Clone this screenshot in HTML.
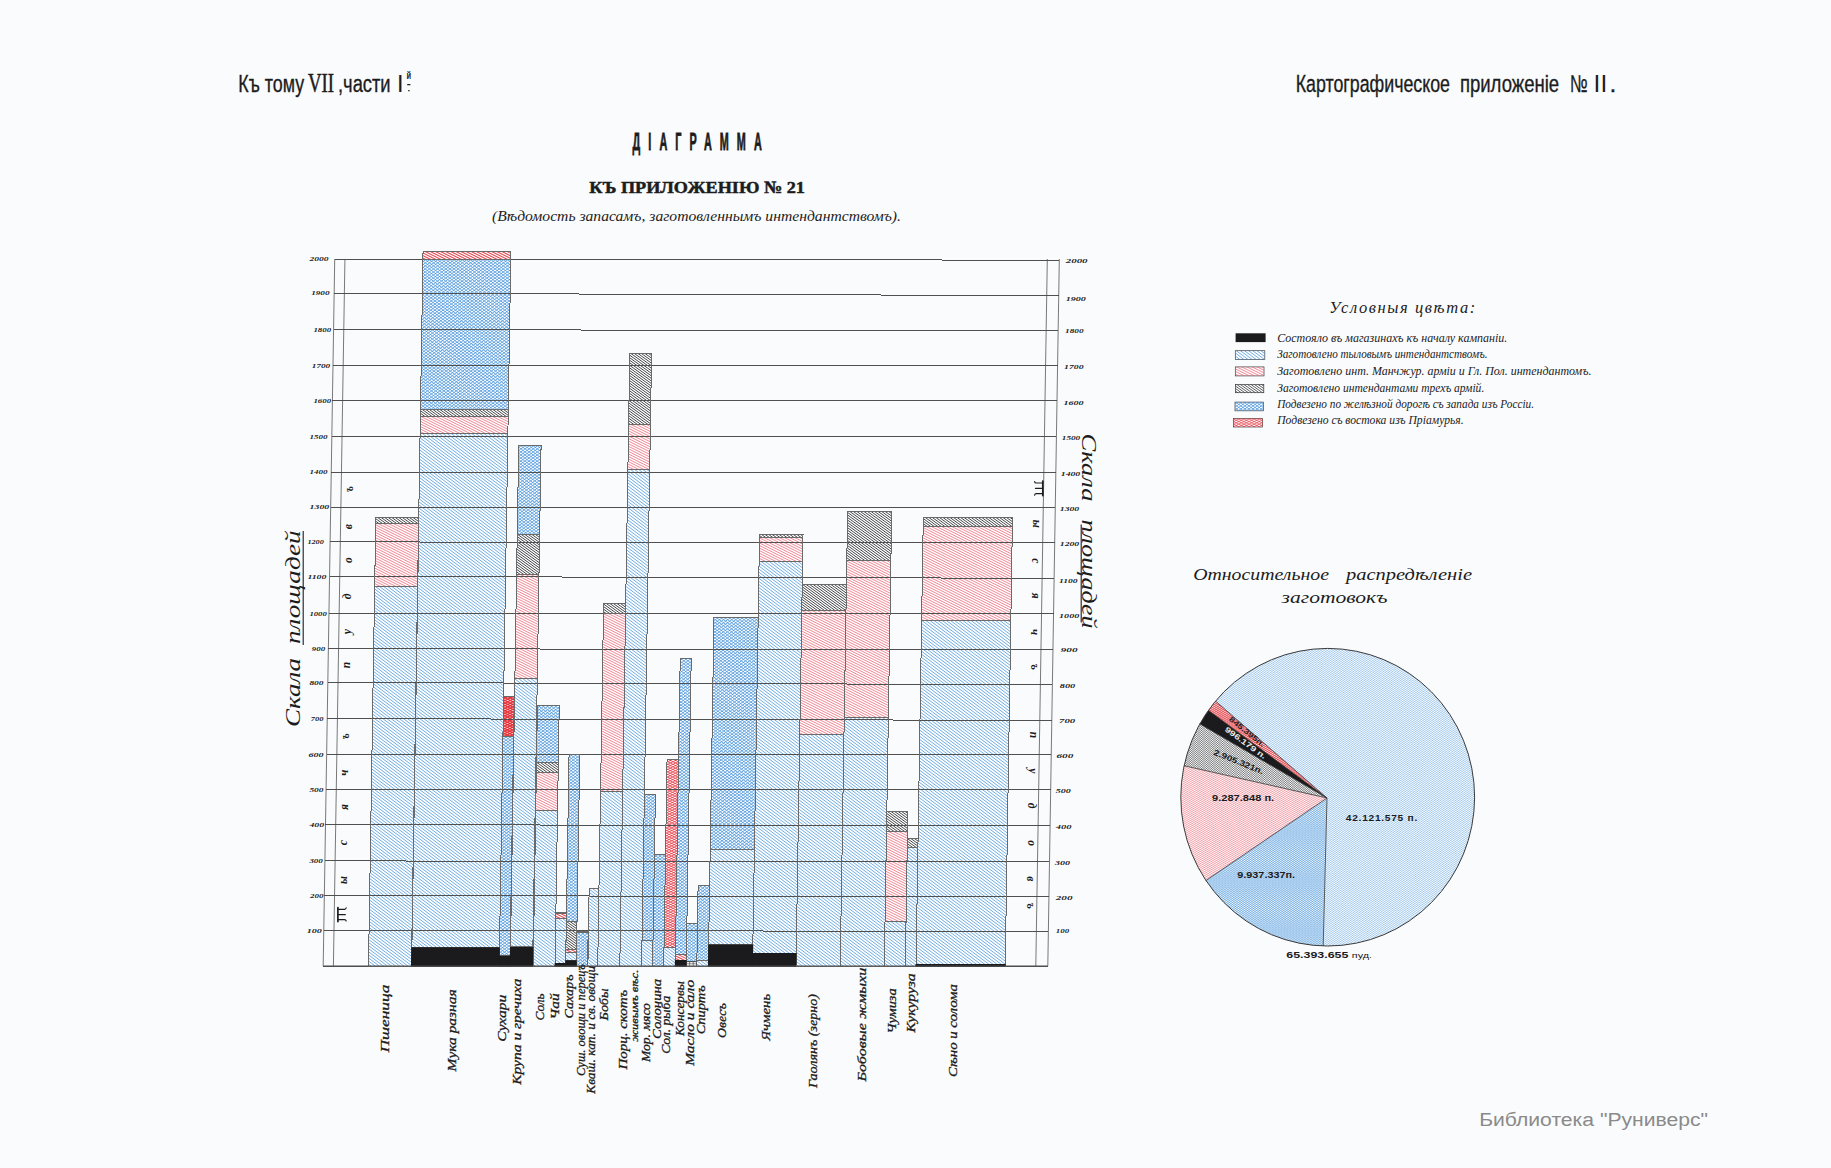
<!DOCTYPE html>
<html><head><meta charset="utf-8"><title>Diagram</title>
<style>html,body{margin:0;padding:0;background:#fafbfd}svg{display:block}text{font-family:"Liberation Serif",serif;fill:#1c1c1c}.sans{font-family:"Liberation Sans",sans-serif}.it{font-style:italic}.b{font-weight:bold}</style></head><body>
<svg width="1831" height="1168" viewBox="0 0 1831 1168">
<rect width="1831" height="1168" fill="#fafbfd"/>
<defs>
<path id="hb1" d="M360 -234.73l650 482.7M360 -231.68l650 482.7M360 -228.63l650 482.7M360 -225.58l650 482.7M360 -222.53l650 482.7M360 -219.48l650 482.7M360 -216.43l650 482.7M360 -213.38l650 482.7M360 -210.33l650 482.7M360 -207.28l650 482.7M360 -204.23l650 482.7M360 -201.18l650 482.7M360 -198.13l650 482.7M360 -195.08l650 482.7M360 -192.03l650 482.7M360 -188.98l650 482.7M360 -185.93l650 482.7M360 -182.88l650 482.7M360 -179.83l650 482.7M360 -176.78l650 482.7M360 -173.73l650 482.7M360 -170.68l650 482.7M360 -167.63l650 482.7M360 -164.58l650 482.7M360 -161.53l650 482.7M360 -158.48l650 482.7M360 -155.43l650 482.7M360 -152.38l650 482.7M360 -149.33l650 482.7M360 -146.28l650 482.7M360 -143.23l650 482.7M360 -140.18l650 482.7M360 -137.13l650 482.7M360 -134.08l650 482.7M360 -131.03l650 482.7M360 -127.98l650 482.7M360 -124.93l650 482.7M360 -121.88l650 482.7M360 -118.83l650 482.7M360 -115.78l650 482.7M360 -112.73l650 482.7M360 -109.68l650 482.7M360 -106.63l650 482.7M360 -103.58l650 482.7M360 -100.53l650 482.7M360 -97.48l650 482.7M360 -94.43l650 482.7M360 -91.38l650 482.7M360 -88.33l650 482.7M360 -85.28l650 482.7M360 -82.23l650 482.7M360 -79.18l650 482.7M360 -76.13l650 482.7M360 -73.08l650 482.7M360 -70.03l650 482.7M360 -66.98l650 482.7M360 -63.93l650 482.7M360 -60.88l650 482.7M360 -57.83l650 482.7M360 -54.78l650 482.7M360 -51.73l650 482.7M360 -48.68l650 482.7M360 -45.63l650 482.7M360 -42.58l650 482.7M360 -39.53l650 482.7M360 -36.48l650 482.7M360 -33.43l650 482.7M360 -30.38l650 482.7M360 -27.33l650 482.7M360 -24.28l650 482.7M360 -21.23l650 482.7M360 -18.18l650 482.7M360 -15.13l650 482.7M360 -12.08l650 482.7M360 -9.03l650 482.7M360 -5.98l650 482.7M360 -2.93l650 482.7M360 0.12l650 482.7M360 3.17l650 482.7M360 6.22l650 482.7M360 9.27l650 482.7M360 12.32l650 482.7M360 15.37l650 482.7M360 18.42l650 482.7M360 21.47l650 482.7M360 24.52l650 482.7M360 27.57l650 482.7M360 30.62l650 482.7M360 33.67l650 482.7M360 36.72l650 482.7M360 39.77l650 482.7M360 42.82l650 482.7M360 45.87l650 482.7M360 48.92l650 482.7M360 51.97l650 482.7M360 55.02l650 482.7M360 58.07l650 482.7M360 61.12l650 482.7M360 64.17l650 482.7M360 67.22l650 482.7M360 70.27l650 482.7M360 73.32l650 482.7M360 76.37l650 482.7M360 79.42l650 482.7M360 82.47l650 482.7M360 85.52l650 482.7M360 88.57l650 482.7M360 91.62l650 482.7M360 94.67l650 482.7M360 97.72l650 482.7M360 100.77l650 482.7M360 103.82l650 482.7M360 106.87l650 482.7M360 109.92l650 482.7M360 112.97l650 482.7M360 116.02l650 482.7M360 119.07l650 482.7M360 122.12l650 482.7M360 125.17l650 482.7M360 128.22l650 482.7M360 131.27l650 482.7M360 134.32l650 482.7M360 137.37l650 482.7M360 140.42l650 482.7M360 143.47l650 482.7M360 146.52l650 482.7M360 149.57l650 482.7M360 152.62l650 482.7M360 155.67l650 482.7M360 158.72l650 482.7M360 161.77l650 482.7M360 164.82l650 482.7M360 167.87l650 482.7M360 170.92l650 482.7M360 173.97l650 482.7M360 177.02l650 482.7M360 180.07l650 482.7M360 183.12l650 482.7M360 186.17l650 482.7M360 189.22l650 482.7M360 192.27l650 482.7M360 195.32l650 482.7M360 198.37l650 482.7M360 201.42l650 482.7M360 204.47l650 482.7M360 207.52l650 482.7M360 210.57l650 482.7M360 213.62l650 482.7M360 216.67l650 482.7M360 219.72l650 482.7M360 222.77l650 482.7M360 225.82l650 482.7M360 228.87l650 482.7M360 231.92l650 482.7M360 234.97l650 482.7M360 238.02l650 482.7M360 241.07l650 482.7M360 244.12l650 482.7M360 247.17l650 482.7M360 250.22l650 482.7M360 253.27l650 482.7M360 256.32l650 482.7M360 259.37l650 482.7M360 262.42l650 482.7M360 265.47l650 482.7M360 268.52l650 482.7M360 271.57l650 482.7M360 274.62l650 482.7M360 277.67l650 482.7M360 280.72l650 482.7M360 283.77l650 482.7M360 286.82l650 482.7M360 289.87l650 482.7M360 292.92l650 482.7M360 295.97l650 482.7M360 299.02l650 482.7M360 302.07l650 482.7M360 305.12l650 482.7M360 308.17l650 482.7M360 311.22l650 482.7M360 314.27l650 482.7M360 317.32l650 482.7M360 320.37l650 482.7M360 323.42l650 482.7M360 326.47l650 482.7M360 329.52l650 482.7M360 332.57l650 482.7M360 335.62l650 482.7M360 338.67l650 482.7M360 341.72l650 482.7M360 344.77l650 482.7M360 347.82l650 482.7M360 350.87l650 482.7M360 353.92l650 482.7M360 356.97l650 482.7M360 360.02l650 482.7M360 363.07l650 482.7M360 366.12l650 482.7M360 369.17l650 482.7M360 372.22l650 482.7M360 375.27l650 482.7M360 378.32l650 482.7M360 381.37l650 482.7M360 384.42l650 482.7M360 387.47l650 482.7M360 390.52l650 482.7M360 393.57l650 482.7M360 396.62l650 482.7M360 399.67l650 482.7M360 402.72l650 482.7M360 405.77l650 482.7M360 408.82l650 482.7M360 411.87l650 482.7M360 414.92l650 482.7M360 417.97l650 482.7M360 421.02l650 482.7M360 424.07l650 482.7M360 427.12l650 482.7M360 430.17l650 482.7M360 433.22l650 482.7M360 436.27l650 482.7M360 439.32l650 482.7M360 442.37l650 482.7M360 445.42l650 482.7M360 448.47l650 482.7M360 451.52l650 482.7M360 454.57l650 482.7M360 457.62l650 482.7M360 460.67l650 482.7M360 463.72l650 482.7M360 466.77l650 482.7M360 469.82l650 482.7M360 472.87l650 482.7M360 475.92l650 482.7M360 478.97l650 482.7M360 482.02l650 482.7M360 485.07l650 482.7M360 488.12l650 482.7M360 491.17l650 482.7M360 494.22l650 482.7M360 497.27l650 482.7M360 500.32l650 482.7M360 503.37l650 482.7M360 506.42l650 482.7M360 509.47l650 482.7M360 512.52l650 482.7M360 515.57l650 482.7M360 518.62l650 482.7M360 521.67l650 482.7M360 524.72l650 482.7M360 527.77l650 482.7M360 530.82l650 482.7M360 533.87l650 482.7M360 536.92l650 482.7M360 539.97l650 482.7M360 543.02l650 482.7M360 546.07l650 482.7M360 549.12l650 482.7M360 552.17l650 482.7M360 555.22l650 482.7M360 558.27l650 482.7M360 561.32l650 482.7M360 564.37l650 482.7M360 567.42l650 482.7M360 570.47l650 482.7M360 573.52l650 482.7M360 576.57l650 482.7M360 579.62l650 482.7M360 582.67l650 482.7M360 585.72l650 482.7M360 588.77l650 482.7M360 591.82l650 482.7M360 594.87l650 482.7M360 597.92l650 482.7M360 600.97l650 482.7M360 604.02l650 482.7M360 607.07l650 482.7M360 610.12l650 482.7M360 613.17l650 482.7M360 616.22l650 482.7M360 619.27l650 482.7M360 622.32l650 482.7M360 625.37l650 482.7M360 628.42l650 482.7M360 631.47l650 482.7M360 634.52l650 482.7M360 637.57l650 482.7M360 640.62l650 482.7M360 643.67l650 482.7M360 646.72l650 482.7M360 649.77l650 482.7M360 652.82l650 482.7M360 655.87l650 482.7M360 658.92l650 482.7M360 661.97l650 482.7M360 665.02l650 482.7M360 668.07l650 482.7M360 671.12l650 482.7M360 674.17l650 482.7M360 677.22l650 482.7M360 680.27l650 482.7M360 683.32l650 482.7M360 686.37l650 482.7M360 689.42l650 482.7M360 692.47l650 482.7M360 695.52l650 482.7M360 698.57l650 482.7M360 701.62l650 482.7M360 704.67l650 482.7M360 707.72l650 482.7M360 710.77l650 482.7M360 713.82l650 482.7M360 716.87l650 482.7M360 719.92l650 482.7M360 722.97l650 482.7M360 726.02l650 482.7M360 729.07l650 482.7M360 732.12l650 482.7M360 735.17l650 482.7M360 738.22l650 482.7M360 741.27l650 482.7M360 744.32l650 482.7M360 747.37l650 482.7M360 750.42l650 482.7M360 753.47l650 482.7M360 756.52l650 482.7M360 759.57l650 482.7M360 762.62l650 482.7M360 765.67l650 482.7M360 768.72l650 482.7M360 771.77l650 482.7M360 774.82l650 482.7M360 777.87l650 482.7M360 780.92l650 482.7M360 783.97l650 482.7M360 787.02l650 482.7M360 790.07l650 482.7M360 793.12l650 482.7M360 796.17l650 482.7M360 799.22l650 482.7M360 802.27l650 482.7M360 805.32l650 482.7M360 808.37l650 482.7M360 811.42l650 482.7M360 814.47l650 482.7M360 817.52l650 482.7M360 820.57l650 482.7M360 823.62l650 482.7M360 826.67l650 482.7M360 829.72l650 482.7M360 832.77l650 482.7M360 835.82l650 482.7M360 838.87l650 482.7M360 841.92l650 482.7M360 844.97l650 482.7M360 848.02l650 482.7M360 851.07l650 482.7M360 854.12l650 482.7M360 857.17l650 482.7M360 860.22l650 482.7M360 863.27l650 482.7M360 866.32l650 482.7M360 869.37l650 482.7M360 872.42l650 482.7M360 875.47l650 482.7M360 878.52l650 482.7M360 881.57l650 482.7M360 884.62l650 482.7M360 887.67l650 482.7M360 890.72l650 482.7M360 893.77l650 482.7M360 896.82l650 482.7M360 899.87l650 482.7M360 902.92l650 482.7M360 905.97l650 482.7M360 909.02l650 482.7M360 912.07l650 482.7M360 915.12l650 482.7M360 918.17l650 482.7M360 921.22l650 482.7M360 924.27l650 482.7M360 927.32l650 482.7M360 930.37l650 482.7M360 933.42l650 482.7M360 936.47l650 482.7M360 939.52l650 482.7M360 942.57l650 482.7M360 945.62l650 482.7M360 948.67l650 482.7M360 951.72l650 482.7M360 954.77l650 482.7M360 957.82l650 482.7M360 960.87l650 482.7M360 963.92l650 482.7M360 966.97l650 482.7"/>
<path id="hb2" d="M360 248.00l650 -482.7M360 251.05l650 -482.7M360 254.10l650 -482.7M360 257.15l650 -482.7M360 260.20l650 -482.7M360 263.25l650 -482.7M360 266.30l650 -482.7M360 269.35l650 -482.7M360 272.40l650 -482.7M360 275.45l650 -482.7M360 278.50l650 -482.7M360 281.55l650 -482.7M360 284.60l650 -482.7M360 287.65l650 -482.7M360 290.70l650 -482.7M360 293.75l650 -482.7M360 296.80l650 -482.7M360 299.85l650 -482.7M360 302.90l650 -482.7M360 305.95l650 -482.7M360 309.00l650 -482.7M360 312.05l650 -482.7M360 315.10l650 -482.7M360 318.15l650 -482.7M360 321.20l650 -482.7M360 324.25l650 -482.7M360 327.30l650 -482.7M360 330.35l650 -482.7M360 333.40l650 -482.7M360 336.45l650 -482.7M360 339.50l650 -482.7M360 342.55l650 -482.7M360 345.60l650 -482.7M360 348.65l650 -482.7M360 351.70l650 -482.7M360 354.75l650 -482.7M360 357.80l650 -482.7M360 360.85l650 -482.7M360 363.90l650 -482.7M360 366.95l650 -482.7M360 370.00l650 -482.7M360 373.05l650 -482.7M360 376.10l650 -482.7M360 379.15l650 -482.7M360 382.20l650 -482.7M360 385.25l650 -482.7M360 388.30l650 -482.7M360 391.35l650 -482.7M360 394.40l650 -482.7M360 397.45l650 -482.7M360 400.50l650 -482.7M360 403.55l650 -482.7M360 406.60l650 -482.7M360 409.65l650 -482.7M360 412.70l650 -482.7M360 415.75l650 -482.7M360 418.80l650 -482.7M360 421.85l650 -482.7M360 424.90l650 -482.7M360 427.95l650 -482.7M360 431.00l650 -482.7M360 434.05l650 -482.7M360 437.10l650 -482.7M360 440.15l650 -482.7M360 443.20l650 -482.7M360 446.25l650 -482.7M360 449.30l650 -482.7M360 452.35l650 -482.7M360 455.40l650 -482.7M360 458.45l650 -482.7M360 461.50l650 -482.7M360 464.55l650 -482.7M360 467.60l650 -482.7M360 470.65l650 -482.7M360 473.70l650 -482.7M360 476.75l650 -482.7M360 479.80l650 -482.7M360 482.85l650 -482.7M360 485.90l650 -482.7M360 488.95l650 -482.7M360 492.00l650 -482.7M360 495.05l650 -482.7M360 498.10l650 -482.7M360 501.15l650 -482.7M360 504.20l650 -482.7M360 507.25l650 -482.7M360 510.30l650 -482.7M360 513.35l650 -482.7M360 516.40l650 -482.7M360 519.45l650 -482.7M360 522.50l650 -482.7M360 525.55l650 -482.7M360 528.60l650 -482.7M360 531.65l650 -482.7M360 534.70l650 -482.7M360 537.75l650 -482.7M360 540.80l650 -482.7M360 543.85l650 -482.7M360 546.90l650 -482.7M360 549.95l650 -482.7M360 553.00l650 -482.7M360 556.05l650 -482.7M360 559.10l650 -482.7M360 562.15l650 -482.7M360 565.20l650 -482.7M360 568.25l650 -482.7M360 571.30l650 -482.7M360 574.35l650 -482.7M360 577.40l650 -482.7M360 580.45l650 -482.7M360 583.50l650 -482.7M360 586.55l650 -482.7M360 589.60l650 -482.7M360 592.65l650 -482.7M360 595.70l650 -482.7M360 598.75l650 -482.7M360 601.80l650 -482.7M360 604.85l650 -482.7M360 607.90l650 -482.7M360 610.95l650 -482.7M360 614.00l650 -482.7M360 617.05l650 -482.7M360 620.10l650 -482.7M360 623.15l650 -482.7M360 626.20l650 -482.7M360 629.25l650 -482.7M360 632.30l650 -482.7M360 635.35l650 -482.7M360 638.40l650 -482.7M360 641.45l650 -482.7M360 644.50l650 -482.7M360 647.55l650 -482.7M360 650.60l650 -482.7M360 653.65l650 -482.7M360 656.70l650 -482.7M360 659.75l650 -482.7M360 662.80l650 -482.7M360 665.85l650 -482.7M360 668.90l650 -482.7M360 671.95l650 -482.7M360 675.00l650 -482.7M360 678.05l650 -482.7M360 681.10l650 -482.7M360 684.15l650 -482.7M360 687.20l650 -482.7M360 690.25l650 -482.7M360 693.30l650 -482.7M360 696.35l650 -482.7M360 699.40l650 -482.7M360 702.45l650 -482.7M360 705.50l650 -482.7M360 708.55l650 -482.7M360 711.60l650 -482.7M360 714.65l650 -482.7M360 717.70l650 -482.7M360 720.75l650 -482.7M360 723.80l650 -482.7M360 726.85l650 -482.7M360 729.90l650 -482.7M360 732.95l650 -482.7M360 736.00l650 -482.7M360 739.05l650 -482.7M360 742.10l650 -482.7M360 745.15l650 -482.7M360 748.20l650 -482.7M360 751.25l650 -482.7M360 754.30l650 -482.7M360 757.35l650 -482.7M360 760.40l650 -482.7M360 763.45l650 -482.7M360 766.50l650 -482.7M360 769.55l650 -482.7M360 772.60l650 -482.7M360 775.65l650 -482.7M360 778.70l650 -482.7M360 781.75l650 -482.7M360 784.80l650 -482.7M360 787.85l650 -482.7M360 790.90l650 -482.7M360 793.95l650 -482.7M360 797.00l650 -482.7M360 800.05l650 -482.7M360 803.10l650 -482.7M360 806.15l650 -482.7M360 809.20l650 -482.7M360 812.25l650 -482.7M360 815.30l650 -482.7M360 818.35l650 -482.7M360 821.40l650 -482.7M360 824.45l650 -482.7M360 827.50l650 -482.7M360 830.55l650 -482.7M360 833.60l650 -482.7M360 836.65l650 -482.7M360 839.70l650 -482.7M360 842.75l650 -482.7M360 845.80l650 -482.7M360 848.85l650 -482.7M360 851.90l650 -482.7M360 854.95l650 -482.7M360 858.00l650 -482.7M360 861.05l650 -482.7M360 864.10l650 -482.7M360 867.15l650 -482.7M360 870.20l650 -482.7M360 873.25l650 -482.7M360 876.30l650 -482.7M360 879.35l650 -482.7M360 882.40l650 -482.7M360 885.45l650 -482.7M360 888.50l650 -482.7M360 891.55l650 -482.7M360 894.60l650 -482.7M360 897.65l650 -482.7M360 900.70l650 -482.7M360 903.75l650 -482.7M360 906.80l650 -482.7M360 909.85l650 -482.7M360 912.90l650 -482.7M360 915.95l650 -482.7M360 919.00l650 -482.7M360 922.05l650 -482.7M360 925.10l650 -482.7M360 928.15l650 -482.7M360 931.20l650 -482.7M360 934.25l650 -482.7M360 937.30l650 -482.7M360 940.35l650 -482.7M360 943.40l650 -482.7M360 946.45l650 -482.7M360 949.50l650 -482.7M360 952.55l650 -482.7M360 955.60l650 -482.7M360 958.65l650 -482.7M360 961.70l650 -482.7M360 964.75l650 -482.7M360 967.80l650 -482.7M360 970.85l650 -482.7M360 973.90l650 -482.7M360 976.95l650 -482.7M360 980.00l650 -482.7M360 983.05l650 -482.7M360 986.10l650 -482.7M360 989.15l650 -482.7M360 992.20l650 -482.7M360 995.25l650 -482.7M360 998.30l650 -482.7M360 1001.35l650 -482.7M360 1004.40l650 -482.7M360 1007.45l650 -482.7M360 1010.50l650 -482.7M360 1013.55l650 -482.7M360 1016.60l650 -482.7M360 1019.65l650 -482.7M360 1022.70l650 -482.7M360 1025.75l650 -482.7M360 1028.80l650 -482.7M360 1031.85l650 -482.7M360 1034.90l650 -482.7M360 1037.95l650 -482.7M360 1041.00l650 -482.7M360 1044.05l650 -482.7M360 1047.10l650 -482.7M360 1050.15l650 -482.7M360 1053.20l650 -482.7M360 1056.25l650 -482.7M360 1059.30l650 -482.7M360 1062.35l650 -482.7M360 1065.40l650 -482.7M360 1068.45l650 -482.7M360 1071.50l650 -482.7M360 1074.55l650 -482.7M360 1077.60l650 -482.7M360 1080.65l650 -482.7M360 1083.70l650 -482.7M360 1086.75l650 -482.7M360 1089.80l650 -482.7M360 1092.85l650 -482.7M360 1095.90l650 -482.7M360 1098.95l650 -482.7M360 1102.00l650 -482.7M360 1105.05l650 -482.7M360 1108.10l650 -482.7M360 1111.15l650 -482.7M360 1114.20l650 -482.7M360 1117.25l650 -482.7M360 1120.30l650 -482.7M360 1123.35l650 -482.7M360 1126.40l650 -482.7M360 1129.45l650 -482.7M360 1132.50l650 -482.7M360 1135.55l650 -482.7M360 1138.60l650 -482.7M360 1141.65l650 -482.7M360 1144.70l650 -482.7M360 1147.75l650 -482.7M360 1150.80l650 -482.7M360 1153.85l650 -482.7M360 1156.90l650 -482.7M360 1159.95l650 -482.7M360 1163.00l650 -482.7M360 1166.05l650 -482.7M360 1169.10l650 -482.7M360 1172.15l650 -482.7M360 1175.20l650 -482.7M360 1178.25l650 -482.7M360 1181.30l650 -482.7M360 1184.35l650 -482.7M360 1187.40l650 -482.7M360 1190.45l650 -482.7M360 1193.50l650 -482.7M360 1196.55l650 -482.7M360 1199.60l650 -482.7M360 1202.65l650 -482.7M360 1205.70l650 -482.7M360 1208.75l650 -482.7M360 1211.80l650 -482.7M360 1214.85l650 -482.7M360 1217.90l650 -482.7M360 1220.95l650 -482.7M360 1224.00l650 -482.7M360 1227.05l650 -482.7M360 1230.10l650 -482.7M360 1233.15l650 -482.7M360 1236.20l650 -482.7M360 1239.25l650 -482.7M360 1242.30l650 -482.7M360 1245.35l650 -482.7M360 1248.40l650 -482.7M360 1251.45l650 -482.7M360 1254.50l650 -482.7M360 1257.55l650 -482.7M360 1260.60l650 -482.7M360 1263.65l650 -482.7M360 1266.70l650 -482.7M360 1269.75l650 -482.7M360 1272.80l650 -482.7M360 1275.85l650 -482.7M360 1278.90l650 -482.7M360 1281.95l650 -482.7M360 1285.00l650 -482.7M360 1288.05l650 -482.7M360 1291.10l650 -482.7M360 1294.15l650 -482.7M360 1297.20l650 -482.7M360 1300.25l650 -482.7M360 1303.30l650 -482.7M360 1306.35l650 -482.7M360 1309.40l650 -482.7M360 1312.45l650 -482.7M360 1315.50l650 -482.7M360 1318.55l650 -482.7M360 1321.60l650 -482.7M360 1324.65l650 -482.7M360 1327.70l650 -482.7M360 1330.75l650 -482.7M360 1333.80l650 -482.7M360 1336.85l650 -482.7M360 1339.90l650 -482.7M360 1342.95l650 -482.7M360 1346.00l650 -482.7M360 1349.05l650 -482.7M360 1352.10l650 -482.7M360 1355.15l650 -482.7M360 1358.20l650 -482.7M360 1361.25l650 -482.7M360 1364.30l650 -482.7M360 1367.35l650 -482.7M360 1370.40l650 -482.7M360 1373.45l650 -482.7M360 1376.50l650 -482.7M360 1379.55l650 -482.7M360 1382.60l650 -482.7M360 1385.65l650 -482.7M360 1388.70l650 -482.7M360 1391.75l650 -482.7M360 1394.80l650 -482.7M360 1397.85l650 -482.7M360 1400.90l650 -482.7M360 1403.95l650 -482.7M360 1407.00l650 -482.7M360 1410.05l650 -482.7M360 1413.10l650 -482.7M360 1416.15l650 -482.7M360 1419.20l650 -482.7M360 1422.25l650 -482.7M360 1425.30l650 -482.7M360 1428.35l650 -482.7M360 1431.40l650 -482.7M360 1434.45l650 -482.7M360 1437.50l650 -482.7M360 1440.55l650 -482.7M360 1443.60l650 -482.7M360 1446.65l650 -482.7M360 1449.70l650 -482.7"/>
<path id="hr1" d="M360 -76.08l650 324.1M360 -73.53l650 324.1M360 -70.98l650 324.1M360 -68.43l650 324.1M360 -65.88l650 324.1M360 -63.33l650 324.1M360 -60.78l650 324.1M360 -58.23l650 324.1M360 -55.68l650 324.1M360 -53.13l650 324.1M360 -50.58l650 324.1M360 -48.03l650 324.1M360 -45.48l650 324.1M360 -42.93l650 324.1M360 -40.38l650 324.1M360 -37.83l650 324.1M360 -35.28l650 324.1M360 -32.73l650 324.1M360 -30.18l650 324.1M360 -27.63l650 324.1M360 -25.08l650 324.1M360 -22.53l650 324.1M360 -19.98l650 324.1M360 -17.43l650 324.1M360 -14.88l650 324.1M360 -12.33l650 324.1M360 -9.78l650 324.1M360 -7.23l650 324.1M360 -4.68l650 324.1M360 -2.13l650 324.1M360 0.42l650 324.1M360 2.97l650 324.1M360 5.52l650 324.1M360 8.07l650 324.1M360 10.62l650 324.1M360 13.17l650 324.1M360 15.72l650 324.1M360 18.27l650 324.1M360 20.82l650 324.1M360 23.37l650 324.1M360 25.92l650 324.1M360 28.47l650 324.1M360 31.02l650 324.1M360 33.57l650 324.1M360 36.12l650 324.1M360 38.67l650 324.1M360 41.22l650 324.1M360 43.77l650 324.1M360 46.32l650 324.1M360 48.87l650 324.1M360 51.42l650 324.1M360 53.97l650 324.1M360 56.52l650 324.1M360 59.07l650 324.1M360 61.62l650 324.1M360 64.17l650 324.1M360 66.72l650 324.1M360 69.27l650 324.1M360 71.82l650 324.1M360 74.37l650 324.1M360 76.92l650 324.1M360 79.47l650 324.1M360 82.02l650 324.1M360 84.57l650 324.1M360 87.12l650 324.1M360 89.67l650 324.1M360 92.22l650 324.1M360 94.77l650 324.1M360 97.32l650 324.1M360 99.87l650 324.1M360 102.42l650 324.1M360 104.97l650 324.1M360 107.52l650 324.1M360 110.07l650 324.1M360 112.62l650 324.1M360 115.17l650 324.1M360 117.72l650 324.1M360 120.27l650 324.1M360 122.82l650 324.1M360 125.37l650 324.1M360 127.92l650 324.1M360 130.47l650 324.1M360 133.02l650 324.1M360 135.57l650 324.1M360 138.12l650 324.1M360 140.67l650 324.1M360 143.22l650 324.1M360 145.77l650 324.1M360 148.32l650 324.1M360 150.87l650 324.1M360 153.42l650 324.1M360 155.97l650 324.1M360 158.52l650 324.1M360 161.07l650 324.1M360 163.62l650 324.1M360 166.17l650 324.1M360 168.72l650 324.1M360 171.27l650 324.1M360 173.82l650 324.1M360 176.37l650 324.1M360 178.92l650 324.1M360 181.47l650 324.1M360 184.02l650 324.1M360 186.57l650 324.1M360 189.12l650 324.1M360 191.67l650 324.1M360 194.22l650 324.1M360 196.77l650 324.1M360 199.32l650 324.1M360 201.87l650 324.1M360 204.42l650 324.1M360 206.97l650 324.1M360 209.52l650 324.1M360 212.07l650 324.1M360 214.62l650 324.1M360 217.17l650 324.1M360 219.72l650 324.1M360 222.27l650 324.1M360 224.82l650 324.1M360 227.37l650 324.1M360 229.92l650 324.1M360 232.47l650 324.1M360 235.02l650 324.1M360 237.57l650 324.1M360 240.12l650 324.1M360 242.67l650 324.1M360 245.22l650 324.1M360 247.77l650 324.1M360 250.32l650 324.1M360 252.87l650 324.1M360 255.42l650 324.1M360 257.97l650 324.1M360 260.52l650 324.1M360 263.07l650 324.1M360 265.62l650 324.1M360 268.17l650 324.1M360 270.72l650 324.1M360 273.27l650 324.1M360 275.82l650 324.1M360 278.37l650 324.1M360 280.92l650 324.1M360 283.47l650 324.1M360 286.02l650 324.1M360 288.57l650 324.1M360 291.12l650 324.1M360 293.67l650 324.1M360 296.22l650 324.1M360 298.77l650 324.1M360 301.32l650 324.1M360 303.87l650 324.1M360 306.42l650 324.1M360 308.97l650 324.1M360 311.52l650 324.1M360 314.07l650 324.1M360 316.62l650 324.1M360 319.17l650 324.1M360 321.72l650 324.1M360 324.27l650 324.1M360 326.82l650 324.1M360 329.37l650 324.1M360 331.92l650 324.1M360 334.47l650 324.1M360 337.02l650 324.1M360 339.57l650 324.1M360 342.12l650 324.1M360 344.67l650 324.1M360 347.22l650 324.1M360 349.77l650 324.1M360 352.32l650 324.1M360 354.87l650 324.1M360 357.42l650 324.1M360 359.97l650 324.1M360 362.52l650 324.1M360 365.07l650 324.1M360 367.62l650 324.1M360 370.17l650 324.1M360 372.72l650 324.1M360 375.27l650 324.1M360 377.82l650 324.1M360 380.37l650 324.1M360 382.92l650 324.1M360 385.47l650 324.1M360 388.02l650 324.1M360 390.57l650 324.1M360 393.12l650 324.1M360 395.67l650 324.1M360 398.22l650 324.1M360 400.77l650 324.1M360 403.32l650 324.1M360 405.87l650 324.1M360 408.42l650 324.1M360 410.97l650 324.1M360 413.52l650 324.1M360 416.07l650 324.1M360 418.62l650 324.1M360 421.17l650 324.1M360 423.72l650 324.1M360 426.27l650 324.1M360 428.82l650 324.1M360 431.37l650 324.1M360 433.92l650 324.1M360 436.47l650 324.1M360 439.02l650 324.1M360 441.57l650 324.1M360 444.12l650 324.1M360 446.67l650 324.1M360 449.22l650 324.1M360 451.77l650 324.1M360 454.32l650 324.1M360 456.87l650 324.1M360 459.42l650 324.1M360 461.97l650 324.1M360 464.52l650 324.1M360 467.07l650 324.1M360 469.62l650 324.1M360 472.17l650 324.1M360 474.72l650 324.1M360 477.27l650 324.1M360 479.82l650 324.1M360 482.37l650 324.1M360 484.92l650 324.1M360 487.47l650 324.1M360 490.02l650 324.1M360 492.57l650 324.1M360 495.12l650 324.1M360 497.67l650 324.1M360 500.22l650 324.1M360 502.77l650 324.1M360 505.32l650 324.1M360 507.87l650 324.1M360 510.42l650 324.1M360 512.97l650 324.1M360 515.52l650 324.1M360 518.07l650 324.1M360 520.62l650 324.1M360 523.17l650 324.1M360 525.72l650 324.1M360 528.27l650 324.1M360 530.82l650 324.1M360 533.37l650 324.1M360 535.92l650 324.1M360 538.47l650 324.1M360 541.02l650 324.1M360 543.57l650 324.1M360 546.12l650 324.1M360 548.67l650 324.1M360 551.22l650 324.1M360 553.77l650 324.1M360 556.32l650 324.1M360 558.87l650 324.1M360 561.42l650 324.1M360 563.97l650 324.1M360 566.52l650 324.1M360 569.07l650 324.1M360 571.62l650 324.1M360 574.17l650 324.1M360 576.72l650 324.1M360 579.27l650 324.1M360 581.82l650 324.1M360 584.37l650 324.1M360 586.92l650 324.1M360 589.47l650 324.1M360 592.02l650 324.1M360 594.57l650 324.1M360 597.12l650 324.1M360 599.67l650 324.1M360 602.22l650 324.1M360 604.77l650 324.1M360 607.32l650 324.1M360 609.87l650 324.1M360 612.42l650 324.1M360 614.97l650 324.1M360 617.52l650 324.1M360 620.07l650 324.1M360 622.62l650 324.1M360 625.17l650 324.1M360 627.72l650 324.1M360 630.27l650 324.1M360 632.82l650 324.1M360 635.37l650 324.1M360 637.92l650 324.1M360 640.47l650 324.1M360 643.02l650 324.1M360 645.57l650 324.1M360 648.12l650 324.1M360 650.67l650 324.1M360 653.22l650 324.1M360 655.77l650 324.1M360 658.32l650 324.1M360 660.87l650 324.1M360 663.42l650 324.1M360 665.97l650 324.1M360 668.52l650 324.1M360 671.07l650 324.1M360 673.62l650 324.1M360 676.17l650 324.1M360 678.72l650 324.1M360 681.27l650 324.1M360 683.82l650 324.1M360 686.37l650 324.1M360 688.92l650 324.1M360 691.47l650 324.1M360 694.02l650 324.1M360 696.57l650 324.1M360 699.12l650 324.1M360 701.67l650 324.1M360 704.22l650 324.1M360 706.77l650 324.1M360 709.32l650 324.1M360 711.87l650 324.1M360 714.42l650 324.1M360 716.97l650 324.1M360 719.52l650 324.1M360 722.07l650 324.1M360 724.62l650 324.1M360 727.17l650 324.1M360 729.72l650 324.1M360 732.27l650 324.1M360 734.82l650 324.1M360 737.37l650 324.1M360 739.92l650 324.1M360 742.47l650 324.1M360 745.02l650 324.1M360 747.57l650 324.1M360 750.12l650 324.1M360 752.67l650 324.1M360 755.22l650 324.1M360 757.77l650 324.1M360 760.32l650 324.1M360 762.87l650 324.1M360 765.42l650 324.1M360 767.97l650 324.1M360 770.52l650 324.1M360 773.07l650 324.1M360 775.62l650 324.1M360 778.17l650 324.1M360 780.72l650 324.1M360 783.27l650 324.1M360 785.82l650 324.1M360 788.37l650 324.1M360 790.92l650 324.1M360 793.47l650 324.1M360 796.02l650 324.1M360 798.57l650 324.1M360 801.12l650 324.1M360 803.67l650 324.1M360 806.22l650 324.1M360 808.77l650 324.1M360 811.32l650 324.1M360 813.87l650 324.1M360 816.42l650 324.1M360 818.97l650 324.1M360 821.52l650 324.1M360 824.07l650 324.1M360 826.62l650 324.1M360 829.17l650 324.1M360 831.72l650 324.1M360 834.27l650 324.1M360 836.82l650 324.1M360 839.37l650 324.1M360 841.92l650 324.1M360 844.47l650 324.1M360 847.02l650 324.1M360 849.57l650 324.1M360 852.12l650 324.1M360 854.67l650 324.1M360 857.22l650 324.1M360 859.77l650 324.1M360 862.32l650 324.1M360 864.87l650 324.1M360 867.42l650 324.1M360 869.97l650 324.1M360 872.52l650 324.1M360 875.07l650 324.1M360 877.62l650 324.1M360 880.17l650 324.1M360 882.72l650 324.1M360 885.27l650 324.1M360 887.82l650 324.1M360 890.37l650 324.1M360 892.92l650 324.1M360 895.47l650 324.1M360 898.02l650 324.1M360 900.57l650 324.1M360 903.12l650 324.1M360 905.67l650 324.1M360 908.22l650 324.1M360 910.77l650 324.1M360 913.32l650 324.1M360 915.87l650 324.1M360 918.42l650 324.1M360 920.97l650 324.1M360 923.52l650 324.1M360 926.07l650 324.1M360 928.62l650 324.1M360 931.17l650 324.1M360 933.72l650 324.1M360 936.27l650 324.1M360 938.82l650 324.1M360 941.37l650 324.1M360 943.92l650 324.1M360 946.47l650 324.1M360 949.02l650 324.1M360 951.57l650 324.1M360 954.12l650 324.1M360 956.67l650 324.1M360 959.22l650 324.1M360 961.77l650 324.1M360 964.32l650 324.1M360 966.87l650 324.1"/>
<path id="hr2" d="M360 248.00l650 -324.1M360 250.55l650 -324.1M360 253.10l650 -324.1M360 255.65l650 -324.1M360 258.20l650 -324.1M360 260.75l650 -324.1M360 263.30l650 -324.1M360 265.85l650 -324.1M360 268.40l650 -324.1M360 270.95l650 -324.1M360 273.50l650 -324.1M360 276.05l650 -324.1M360 278.60l650 -324.1M360 281.15l650 -324.1M360 283.70l650 -324.1M360 286.25l650 -324.1M360 288.80l650 -324.1M360 291.35l650 -324.1M360 293.90l650 -324.1M360 296.45l650 -324.1M360 299.00l650 -324.1M360 301.55l650 -324.1M360 304.10l650 -324.1M360 306.65l650 -324.1M360 309.20l650 -324.1M360 311.75l650 -324.1M360 314.30l650 -324.1M360 316.85l650 -324.1M360 319.40l650 -324.1M360 321.95l650 -324.1M360 324.50l650 -324.1M360 327.05l650 -324.1M360 329.60l650 -324.1M360 332.15l650 -324.1M360 334.70l650 -324.1M360 337.25l650 -324.1M360 339.80l650 -324.1M360 342.35l650 -324.1M360 344.90l650 -324.1M360 347.45l650 -324.1M360 350.00l650 -324.1M360 352.55l650 -324.1M360 355.10l650 -324.1M360 357.65l650 -324.1M360 360.20l650 -324.1M360 362.75l650 -324.1M360 365.30l650 -324.1M360 367.85l650 -324.1M360 370.40l650 -324.1M360 372.95l650 -324.1M360 375.50l650 -324.1M360 378.05l650 -324.1M360 380.60l650 -324.1M360 383.15l650 -324.1M360 385.70l650 -324.1M360 388.25l650 -324.1M360 390.80l650 -324.1M360 393.35l650 -324.1M360 395.90l650 -324.1M360 398.45l650 -324.1M360 401.00l650 -324.1M360 403.55l650 -324.1M360 406.10l650 -324.1M360 408.65l650 -324.1M360 411.20l650 -324.1M360 413.75l650 -324.1M360 416.30l650 -324.1M360 418.85l650 -324.1M360 421.40l650 -324.1M360 423.95l650 -324.1M360 426.50l650 -324.1M360 429.05l650 -324.1M360 431.60l650 -324.1M360 434.15l650 -324.1M360 436.70l650 -324.1M360 439.25l650 -324.1M360 441.80l650 -324.1M360 444.35l650 -324.1M360 446.90l650 -324.1M360 449.45l650 -324.1M360 452.00l650 -324.1M360 454.55l650 -324.1M360 457.10l650 -324.1M360 459.65l650 -324.1M360 462.20l650 -324.1M360 464.75l650 -324.1M360 467.30l650 -324.1M360 469.85l650 -324.1M360 472.40l650 -324.1M360 474.95l650 -324.1M360 477.50l650 -324.1M360 480.05l650 -324.1M360 482.60l650 -324.1M360 485.15l650 -324.1M360 487.70l650 -324.1M360 490.25l650 -324.1M360 492.80l650 -324.1M360 495.35l650 -324.1M360 497.90l650 -324.1M360 500.45l650 -324.1M360 503.00l650 -324.1M360 505.55l650 -324.1M360 508.10l650 -324.1M360 510.65l650 -324.1M360 513.20l650 -324.1M360 515.75l650 -324.1M360 518.30l650 -324.1M360 520.85l650 -324.1M360 523.40l650 -324.1M360 525.95l650 -324.1M360 528.50l650 -324.1M360 531.05l650 -324.1M360 533.60l650 -324.1M360 536.15l650 -324.1M360 538.70l650 -324.1M360 541.25l650 -324.1M360 543.80l650 -324.1M360 546.35l650 -324.1M360 548.90l650 -324.1M360 551.45l650 -324.1M360 554.00l650 -324.1M360 556.55l650 -324.1M360 559.10l650 -324.1M360 561.65l650 -324.1M360 564.20l650 -324.1M360 566.75l650 -324.1M360 569.30l650 -324.1M360 571.85l650 -324.1M360 574.40l650 -324.1M360 576.95l650 -324.1M360 579.50l650 -324.1M360 582.05l650 -324.1M360 584.60l650 -324.1M360 587.15l650 -324.1M360 589.70l650 -324.1M360 592.25l650 -324.1M360 594.80l650 -324.1M360 597.35l650 -324.1M360 599.90l650 -324.1M360 602.45l650 -324.1M360 605.00l650 -324.1M360 607.55l650 -324.1M360 610.10l650 -324.1M360 612.65l650 -324.1M360 615.20l650 -324.1M360 617.75l650 -324.1M360 620.30l650 -324.1M360 622.85l650 -324.1M360 625.40l650 -324.1M360 627.95l650 -324.1M360 630.50l650 -324.1M360 633.05l650 -324.1M360 635.60l650 -324.1M360 638.15l650 -324.1M360 640.70l650 -324.1M360 643.25l650 -324.1M360 645.80l650 -324.1M360 648.35l650 -324.1M360 650.90l650 -324.1M360 653.45l650 -324.1M360 656.00l650 -324.1M360 658.55l650 -324.1M360 661.10l650 -324.1M360 663.65l650 -324.1M360 666.20l650 -324.1M360 668.75l650 -324.1M360 671.30l650 -324.1M360 673.85l650 -324.1M360 676.40l650 -324.1M360 678.95l650 -324.1M360 681.50l650 -324.1M360 684.05l650 -324.1M360 686.60l650 -324.1M360 689.15l650 -324.1M360 691.70l650 -324.1M360 694.25l650 -324.1M360 696.80l650 -324.1M360 699.35l650 -324.1M360 701.90l650 -324.1M360 704.45l650 -324.1M360 707.00l650 -324.1M360 709.55l650 -324.1M360 712.10l650 -324.1M360 714.65l650 -324.1M360 717.20l650 -324.1M360 719.75l650 -324.1M360 722.30l650 -324.1M360 724.85l650 -324.1M360 727.40l650 -324.1M360 729.95l650 -324.1M360 732.50l650 -324.1M360 735.05l650 -324.1M360 737.60l650 -324.1M360 740.15l650 -324.1M360 742.70l650 -324.1M360 745.25l650 -324.1M360 747.80l650 -324.1M360 750.35l650 -324.1M360 752.90l650 -324.1M360 755.45l650 -324.1M360 758.00l650 -324.1M360 760.55l650 -324.1M360 763.10l650 -324.1M360 765.65l650 -324.1M360 768.20l650 -324.1M360 770.75l650 -324.1M360 773.30l650 -324.1M360 775.85l650 -324.1M360 778.40l650 -324.1M360 780.95l650 -324.1M360 783.50l650 -324.1M360 786.05l650 -324.1M360 788.60l650 -324.1M360 791.15l650 -324.1M360 793.70l650 -324.1M360 796.25l650 -324.1M360 798.80l650 -324.1M360 801.35l650 -324.1M360 803.90l650 -324.1M360 806.45l650 -324.1M360 809.00l650 -324.1M360 811.55l650 -324.1M360 814.10l650 -324.1M360 816.65l650 -324.1M360 819.20l650 -324.1M360 821.75l650 -324.1M360 824.30l650 -324.1M360 826.85l650 -324.1M360 829.40l650 -324.1M360 831.95l650 -324.1M360 834.50l650 -324.1M360 837.05l650 -324.1M360 839.60l650 -324.1M360 842.15l650 -324.1M360 844.70l650 -324.1M360 847.25l650 -324.1M360 849.80l650 -324.1M360 852.35l650 -324.1M360 854.90l650 -324.1M360 857.45l650 -324.1M360 860.00l650 -324.1M360 862.55l650 -324.1M360 865.10l650 -324.1M360 867.65l650 -324.1M360 870.20l650 -324.1M360 872.75l650 -324.1M360 875.30l650 -324.1M360 877.85l650 -324.1M360 880.40l650 -324.1M360 882.95l650 -324.1M360 885.50l650 -324.1M360 888.05l650 -324.1M360 890.60l650 -324.1M360 893.15l650 -324.1M360 895.70l650 -324.1M360 898.25l650 -324.1M360 900.80l650 -324.1M360 903.35l650 -324.1M360 905.90l650 -324.1M360 908.45l650 -324.1M360 911.00l650 -324.1M360 913.55l650 -324.1M360 916.10l650 -324.1M360 918.65l650 -324.1M360 921.20l650 -324.1M360 923.75l650 -324.1M360 926.30l650 -324.1M360 928.85l650 -324.1M360 931.40l650 -324.1M360 933.95l650 -324.1M360 936.50l650 -324.1M360 939.05l650 -324.1M360 941.60l650 -324.1M360 944.15l650 -324.1M360 946.70l650 -324.1M360 949.25l650 -324.1M360 951.80l650 -324.1M360 954.35l650 -324.1M360 956.90l650 -324.1M360 959.45l650 -324.1M360 962.00l650 -324.1M360 964.55l650 -324.1M360 967.10l650 -324.1M360 969.65l650 -324.1M360 972.20l650 -324.1M360 974.75l650 -324.1M360 977.30l650 -324.1M360 979.85l650 -324.1M360 982.40l650 -324.1M360 984.95l650 -324.1M360 987.50l650 -324.1M360 990.05l650 -324.1M360 992.60l650 -324.1M360 995.15l650 -324.1M360 997.70l650 -324.1M360 1000.25l650 -324.1M360 1002.80l650 -324.1M360 1005.35l650 -324.1M360 1007.90l650 -324.1M360 1010.45l650 -324.1M360 1013.00l650 -324.1M360 1015.55l650 -324.1M360 1018.10l650 -324.1M360 1020.65l650 -324.1M360 1023.20l650 -324.1M360 1025.75l650 -324.1M360 1028.30l650 -324.1M360 1030.85l650 -324.1M360 1033.40l650 -324.1M360 1035.95l650 -324.1M360 1038.50l650 -324.1M360 1041.05l650 -324.1M360 1043.60l650 -324.1M360 1046.15l650 -324.1M360 1048.70l650 -324.1M360 1051.25l650 -324.1M360 1053.80l650 -324.1M360 1056.35l650 -324.1M360 1058.90l650 -324.1M360 1061.45l650 -324.1M360 1064.00l650 -324.1M360 1066.55l650 -324.1M360 1069.10l650 -324.1M360 1071.65l650 -324.1M360 1074.20l650 -324.1M360 1076.75l650 -324.1M360 1079.30l650 -324.1M360 1081.85l650 -324.1M360 1084.40l650 -324.1M360 1086.95l650 -324.1M360 1089.50l650 -324.1M360 1092.05l650 -324.1M360 1094.60l650 -324.1M360 1097.15l650 -324.1M360 1099.70l650 -324.1M360 1102.25l650 -324.1M360 1104.80l650 -324.1M360 1107.35l650 -324.1M360 1109.90l650 -324.1M360 1112.45l650 -324.1M360 1115.00l650 -324.1M360 1117.55l650 -324.1M360 1120.10l650 -324.1M360 1122.65l650 -324.1M360 1125.20l650 -324.1M360 1127.75l650 -324.1M360 1130.30l650 -324.1M360 1132.85l650 -324.1M360 1135.40l650 -324.1M360 1137.95l650 -324.1M360 1140.50l650 -324.1M360 1143.05l650 -324.1M360 1145.60l650 -324.1M360 1148.15l650 -324.1M360 1150.70l650 -324.1M360 1153.25l650 -324.1M360 1155.80l650 -324.1M360 1158.35l650 -324.1M360 1160.90l650 -324.1M360 1163.45l650 -324.1M360 1166.00l650 -324.1M360 1168.55l650 -324.1M360 1171.10l650 -324.1M360 1173.65l650 -324.1M360 1176.20l650 -324.1M360 1178.75l650 -324.1M360 1181.30l650 -324.1M360 1183.85l650 -324.1M360 1186.40l650 -324.1M360 1188.95l650 -324.1M360 1191.50l650 -324.1M360 1194.05l650 -324.1M360 1196.60l650 -324.1M360 1199.15l650 -324.1M360 1201.70l650 -324.1M360 1204.25l650 -324.1M360 1206.80l650 -324.1M360 1209.35l650 -324.1M360 1211.90l650 -324.1M360 1214.45l650 -324.1M360 1217.00l650 -324.1M360 1219.55l650 -324.1M360 1222.10l650 -324.1M360 1224.65l650 -324.1M360 1227.20l650 -324.1M360 1229.75l650 -324.1M360 1232.30l650 -324.1M360 1234.85l650 -324.1M360 1237.40l650 -324.1M360 1239.95l650 -324.1M360 1242.50l650 -324.1M360 1245.05l650 -324.1M360 1247.60l650 -324.1M360 1250.15l650 -324.1M360 1252.70l650 -324.1M360 1255.25l650 -324.1M360 1257.80l650 -324.1M360 1260.35l650 -324.1M360 1262.90l650 -324.1M360 1265.45l650 -324.1M360 1268.00l650 -324.1M360 1270.55l650 -324.1M360 1273.10l650 -324.1M360 1275.65l650 -324.1M360 1278.20l650 -324.1M360 1280.75l650 -324.1M360 1283.30l650 -324.1M360 1285.85l650 -324.1M360 1288.40l650 -324.1M360 1290.95l650 -324.1"/>
<path id="hg" d="M360 -215.64l650 463.6M360 -213.12l650 463.6M360 -210.60l650 463.6M360 -208.08l650 463.6M360 -205.56l650 463.6M360 -203.04l650 463.6M360 -200.52l650 463.6M360 -198.00l650 463.6M360 -195.48l650 463.6M360 -192.96l650 463.6M360 -190.44l650 463.6M360 -187.92l650 463.6M360 -185.40l650 463.6M360 -182.88l650 463.6M360 -180.36l650 463.6M360 -177.84l650 463.6M360 -175.32l650 463.6M360 -172.80l650 463.6M360 -170.28l650 463.6M360 -167.76l650 463.6M360 -165.24l650 463.6M360 -162.72l650 463.6M360 -160.20l650 463.6M360 -157.68l650 463.6M360 -155.16l650 463.6M360 -152.64l650 463.6M360 -150.12l650 463.6M360 -147.60l650 463.6M360 -145.08l650 463.6M360 -142.56l650 463.6M360 -140.04l650 463.6M360 -137.52l650 463.6M360 -135.00l650 463.6M360 -132.48l650 463.6M360 -129.96l650 463.6M360 -127.44l650 463.6M360 -124.92l650 463.6M360 -122.40l650 463.6M360 -119.88l650 463.6M360 -117.36l650 463.6M360 -114.84l650 463.6M360 -112.32l650 463.6M360 -109.80l650 463.6M360 -107.28l650 463.6M360 -104.76l650 463.6M360 -102.24l650 463.6M360 -99.72l650 463.6M360 -97.20l650 463.6M360 -94.68l650 463.6M360 -92.16l650 463.6M360 -89.64l650 463.6M360 -87.12l650 463.6M360 -84.60l650 463.6M360 -82.08l650 463.6M360 -79.56l650 463.6M360 -77.04l650 463.6M360 -74.52l650 463.6M360 -72.00l650 463.6M360 -69.48l650 463.6M360 -66.96l650 463.6M360 -64.44l650 463.6M360 -61.92l650 463.6M360 -59.40l650 463.6M360 -56.88l650 463.6M360 -54.36l650 463.6M360 -51.84l650 463.6M360 -49.32l650 463.6M360 -46.80l650 463.6M360 -44.28l650 463.6M360 -41.76l650 463.6M360 -39.24l650 463.6M360 -36.72l650 463.6M360 -34.20l650 463.6M360 -31.68l650 463.6M360 -29.16l650 463.6M360 -26.64l650 463.6M360 -24.12l650 463.6M360 -21.60l650 463.6M360 -19.08l650 463.6M360 -16.56l650 463.6M360 -14.04l650 463.6M360 -11.52l650 463.6M360 -9.00l650 463.6M360 -6.48l650 463.6M360 -3.96l650 463.6M360 -1.44l650 463.6M360 1.08l650 463.6M360 3.60l650 463.6M360 6.12l650 463.6M360 8.64l650 463.6M360 11.16l650 463.6M360 13.68l650 463.6M360 16.20l650 463.6M360 18.72l650 463.6M360 21.24l650 463.6M360 23.76l650 463.6M360 26.28l650 463.6M360 28.80l650 463.6M360 31.32l650 463.6M360 33.84l650 463.6M360 36.36l650 463.6M360 38.88l650 463.6M360 41.40l650 463.6M360 43.92l650 463.6M360 46.44l650 463.6M360 48.96l650 463.6M360 51.48l650 463.6M360 54.00l650 463.6M360 56.52l650 463.6M360 59.04l650 463.6M360 61.56l650 463.6M360 64.08l650 463.6M360 66.60l650 463.6M360 69.12l650 463.6M360 71.64l650 463.6M360 74.16l650 463.6M360 76.68l650 463.6M360 79.20l650 463.6M360 81.72l650 463.6M360 84.24l650 463.6M360 86.76l650 463.6M360 89.28l650 463.6M360 91.80l650 463.6M360 94.32l650 463.6M360 96.84l650 463.6M360 99.36l650 463.6M360 101.88l650 463.6M360 104.40l650 463.6M360 106.92l650 463.6M360 109.44l650 463.6M360 111.96l650 463.6M360 114.48l650 463.6M360 117.00l650 463.6M360 119.52l650 463.6M360 122.04l650 463.6M360 124.56l650 463.6M360 127.08l650 463.6M360 129.60l650 463.6M360 132.12l650 463.6M360 134.64l650 463.6M360 137.16l650 463.6M360 139.68l650 463.6M360 142.20l650 463.6M360 144.72l650 463.6M360 147.24l650 463.6M360 149.76l650 463.6M360 152.28l650 463.6M360 154.80l650 463.6M360 157.32l650 463.6M360 159.84l650 463.6M360 162.36l650 463.6M360 164.88l650 463.6M360 167.40l650 463.6M360 169.92l650 463.6M360 172.44l650 463.6M360 174.96l650 463.6M360 177.48l650 463.6M360 180.00l650 463.6M360 182.52l650 463.6M360 185.04l650 463.6M360 187.56l650 463.6M360 190.08l650 463.6M360 192.60l650 463.6M360 195.12l650 463.6M360 197.64l650 463.6M360 200.16l650 463.6M360 202.68l650 463.6M360 205.20l650 463.6M360 207.72l650 463.6M360 210.24l650 463.6M360 212.76l650 463.6M360 215.28l650 463.6M360 217.80l650 463.6M360 220.32l650 463.6M360 222.84l650 463.6M360 225.36l650 463.6M360 227.88l650 463.6M360 230.40l650 463.6M360 232.92l650 463.6M360 235.44l650 463.6M360 237.96l650 463.6M360 240.48l650 463.6M360 243.00l650 463.6M360 245.52l650 463.6M360 248.04l650 463.6M360 250.56l650 463.6M360 253.08l650 463.6M360 255.60l650 463.6M360 258.12l650 463.6M360 260.64l650 463.6M360 263.16l650 463.6M360 265.68l650 463.6M360 268.20l650 463.6M360 270.72l650 463.6M360 273.24l650 463.6M360 275.76l650 463.6M360 278.28l650 463.6M360 280.80l650 463.6M360 283.32l650 463.6M360 285.84l650 463.6M360 288.36l650 463.6M360 290.88l650 463.6M360 293.40l650 463.6M360 295.92l650 463.6M360 298.44l650 463.6M360 300.96l650 463.6M360 303.48l650 463.6M360 306.00l650 463.6M360 308.52l650 463.6M360 311.04l650 463.6M360 313.56l650 463.6M360 316.08l650 463.6M360 318.60l650 463.6M360 321.12l650 463.6M360 323.64l650 463.6M360 326.16l650 463.6M360 328.68l650 463.6M360 331.20l650 463.6M360 333.72l650 463.6M360 336.24l650 463.6M360 338.76l650 463.6M360 341.28l650 463.6M360 343.80l650 463.6M360 346.32l650 463.6M360 348.84l650 463.6M360 351.36l650 463.6M360 353.88l650 463.6M360 356.40l650 463.6M360 358.92l650 463.6M360 361.44l650 463.6M360 363.96l650 463.6M360 366.48l650 463.6M360 369.00l650 463.6M360 371.52l650 463.6M360 374.04l650 463.6M360 376.56l650 463.6M360 379.08l650 463.6M360 381.60l650 463.6M360 384.12l650 463.6M360 386.64l650 463.6M360 389.16l650 463.6M360 391.68l650 463.6M360 394.20l650 463.6M360 396.72l650 463.6M360 399.24l650 463.6M360 401.76l650 463.6M360 404.28l650 463.6M360 406.80l650 463.6M360 409.32l650 463.6M360 411.84l650 463.6M360 414.36l650 463.6M360 416.88l650 463.6M360 419.40l650 463.6M360 421.92l650 463.6M360 424.44l650 463.6M360 426.96l650 463.6M360 429.48l650 463.6M360 432.00l650 463.6M360 434.52l650 463.6M360 437.04l650 463.6M360 439.56l650 463.6M360 442.08l650 463.6M360 444.60l650 463.6M360 447.12l650 463.6M360 449.64l650 463.6M360 452.16l650 463.6M360 454.68l650 463.6M360 457.20l650 463.6M360 459.72l650 463.6M360 462.24l650 463.6M360 464.76l650 463.6M360 467.28l650 463.6M360 469.80l650 463.6M360 472.32l650 463.6M360 474.84l650 463.6M360 477.36l650 463.6M360 479.88l650 463.6M360 482.40l650 463.6M360 484.92l650 463.6M360 487.44l650 463.6M360 489.96l650 463.6M360 492.48l650 463.6M360 495.00l650 463.6M360 497.52l650 463.6M360 500.04l650 463.6M360 502.56l650 463.6M360 505.08l650 463.6M360 507.60l650 463.6M360 510.12l650 463.6M360 512.64l650 463.6M360 515.16l650 463.6M360 517.68l650 463.6M360 520.20l650 463.6M360 522.72l650 463.6M360 525.24l650 463.6M360 527.76l650 463.6M360 530.28l650 463.6M360 532.80l650 463.6M360 535.32l650 463.6M360 537.84l650 463.6M360 540.36l650 463.6M360 542.88l650 463.6M360 545.40l650 463.6M360 547.92l650 463.6M360 550.44l650 463.6M360 552.96l650 463.6M360 555.48l650 463.6M360 558.00l650 463.6M360 560.52l650 463.6M360 563.04l650 463.6M360 565.56l650 463.6M360 568.08l650 463.6M360 570.60l650 463.6M360 573.12l650 463.6M360 575.64l650 463.6M360 578.16l650 463.6M360 580.68l650 463.6M360 583.20l650 463.6M360 585.72l650 463.6M360 588.24l650 463.6M360 590.76l650 463.6M360 593.28l650 463.6M360 595.80l650 463.6M360 598.32l650 463.6M360 600.84l650 463.6M360 603.36l650 463.6M360 605.88l650 463.6M360 608.40l650 463.6M360 610.92l650 463.6M360 613.44l650 463.6M360 615.96l650 463.6M360 618.48l650 463.6M360 621.00l650 463.6M360 623.52l650 463.6M360 626.04l650 463.6M360 628.56l650 463.6M360 631.08l650 463.6M360 633.60l650 463.6M360 636.12l650 463.6M360 638.64l650 463.6M360 641.16l650 463.6M360 643.68l650 463.6M360 646.20l650 463.6M360 648.72l650 463.6M360 651.24l650 463.6M360 653.76l650 463.6M360 656.28l650 463.6M360 658.80l650 463.6M360 661.32l650 463.6M360 663.84l650 463.6M360 666.36l650 463.6M360 668.88l650 463.6M360 671.40l650 463.6M360 673.92l650 463.6M360 676.44l650 463.6M360 678.96l650 463.6M360 681.48l650 463.6M360 684.00l650 463.6M360 686.52l650 463.6M360 689.04l650 463.6M360 691.56l650 463.6M360 694.08l650 463.6M360 696.60l650 463.6M360 699.12l650 463.6M360 701.64l650 463.6M360 704.16l650 463.6M360 706.68l650 463.6M360 709.20l650 463.6M360 711.72l650 463.6M360 714.24l650 463.6M360 716.76l650 463.6M360 719.28l650 463.6M360 721.80l650 463.6M360 724.32l650 463.6M360 726.84l650 463.6M360 729.36l650 463.6M360 731.88l650 463.6M360 734.40l650 463.6M360 736.92l650 463.6M360 739.44l650 463.6M360 741.96l650 463.6M360 744.48l650 463.6M360 747.00l650 463.6M360 749.52l650 463.6M360 752.04l650 463.6M360 754.56l650 463.6M360 757.08l650 463.6M360 759.60l650 463.6M360 762.12l650 463.6M360 764.64l650 463.6M360 767.16l650 463.6M360 769.68l650 463.6M360 772.20l650 463.6M360 774.72l650 463.6M360 777.24l650 463.6M360 779.76l650 463.6M360 782.28l650 463.6M360 784.80l650 463.6M360 787.32l650 463.6M360 789.84l650 463.6M360 792.36l650 463.6M360 794.88l650 463.6M360 797.40l650 463.6M360 799.92l650 463.6M360 802.44l650 463.6M360 804.96l650 463.6M360 807.48l650 463.6M360 810.00l650 463.6M360 812.52l650 463.6M360 815.04l650 463.6M360 817.56l650 463.6M360 820.08l650 463.6M360 822.60l650 463.6M360 825.12l650 463.6M360 827.64l650 463.6M360 830.16l650 463.6M360 832.68l650 463.6M360 835.20l650 463.6M360 837.72l650 463.6M360 840.24l650 463.6M360 842.76l650 463.6M360 845.28l650 463.6M360 847.80l650 463.6M360 850.32l650 463.6M360 852.84l650 463.6M360 855.36l650 463.6M360 857.88l650 463.6M360 860.40l650 463.6M360 862.92l650 463.6M360 865.44l650 463.6M360 867.96l650 463.6M360 870.48l650 463.6M360 873.00l650 463.6M360 875.52l650 463.6M360 878.04l650 463.6M360 880.56l650 463.6M360 883.08l650 463.6M360 885.60l650 463.6M360 888.12l650 463.6M360 890.64l650 463.6M360 893.16l650 463.6M360 895.68l650 463.6M360 898.20l650 463.6M360 900.72l650 463.6M360 903.24l650 463.6M360 905.76l650 463.6M360 908.28l650 463.6M360 910.80l650 463.6M360 913.32l650 463.6M360 915.84l650 463.6M360 918.36l650 463.6M360 920.88l650 463.6M360 923.40l650 463.6M360 925.92l650 463.6M360 928.44l650 463.6M360 930.96l650 463.6M360 933.48l650 463.6M360 936.00l650 463.6M360 938.52l650 463.6M360 941.04l650 463.6M360 943.56l650 463.6M360 946.08l650 463.6M360 948.60l650 463.6M360 951.12l650 463.6M360 953.64l650 463.6M360 956.16l650 463.6M360 958.68l650 463.6M360 961.20l650 463.6M360 963.72l650 463.6M360 966.24l650 463.6"/>
<path id="pb1" d="M1175 441.93l305 198.1M1175 443.89l305 198.1M1175 445.85l305 198.1M1175 447.81l305 198.1M1175 449.77l305 198.1M1175 451.73l305 198.1M1175 453.69l305 198.1M1175 455.65l305 198.1M1175 457.61l305 198.1M1175 459.57l305 198.1M1175 461.53l305 198.1M1175 463.49l305 198.1M1175 465.45l305 198.1M1175 467.41l305 198.1M1175 469.37l305 198.1M1175 471.33l305 198.1M1175 473.29l305 198.1M1175 475.25l305 198.1M1175 477.21l305 198.1M1175 479.17l305 198.1M1175 481.13l305 198.1M1175 483.09l305 198.1M1175 485.05l305 198.1M1175 487.01l305 198.1M1175 488.97l305 198.1M1175 490.93l305 198.1M1175 492.89l305 198.1M1175 494.85l305 198.1M1175 496.81l305 198.1M1175 498.77l305 198.1M1175 500.73l305 198.1M1175 502.69l305 198.1M1175 504.65l305 198.1M1175 506.61l305 198.1M1175 508.57l305 198.1M1175 510.53l305 198.1M1175 512.49l305 198.1M1175 514.45l305 198.1M1175 516.41l305 198.1M1175 518.37l305 198.1M1175 520.33l305 198.1M1175 522.29l305 198.1M1175 524.25l305 198.1M1175 526.21l305 198.1M1175 528.17l305 198.1M1175 530.13l305 198.1M1175 532.09l305 198.1M1175 534.05l305 198.1M1175 536.01l305 198.1M1175 537.97l305 198.1M1175 539.93l305 198.1M1175 541.89l305 198.1M1175 543.85l305 198.1M1175 545.81l305 198.1M1175 547.77l305 198.1M1175 549.73l305 198.1M1175 551.69l305 198.1M1175 553.65l305 198.1M1175 555.61l305 198.1M1175 557.57l305 198.1M1175 559.53l305 198.1M1175 561.49l305 198.1M1175 563.45l305 198.1M1175 565.41l305 198.1M1175 567.37l305 198.1M1175 569.33l305 198.1M1175 571.29l305 198.1M1175 573.25l305 198.1M1175 575.21l305 198.1M1175 577.17l305 198.1M1175 579.13l305 198.1M1175 581.09l305 198.1M1175 583.05l305 198.1M1175 585.01l305 198.1M1175 586.97l305 198.1M1175 588.93l305 198.1M1175 590.89l305 198.1M1175 592.85l305 198.1M1175 594.81l305 198.1M1175 596.77l305 198.1M1175 598.73l305 198.1M1175 600.69l305 198.1M1175 602.65l305 198.1M1175 604.61l305 198.1M1175 606.57l305 198.1M1175 608.53l305 198.1M1175 610.49l305 198.1M1175 612.45l305 198.1M1175 614.41l305 198.1M1175 616.37l305 198.1M1175 618.33l305 198.1M1175 620.29l305 198.1M1175 622.25l305 198.1M1175 624.21l305 198.1M1175 626.17l305 198.1M1175 628.13l305 198.1M1175 630.09l305 198.1M1175 632.05l305 198.1M1175 634.01l305 198.1M1175 635.97l305 198.1M1175 637.93l305 198.1M1175 639.89l305 198.1M1175 641.85l305 198.1M1175 643.81l305 198.1M1175 645.77l305 198.1M1175 647.73l305 198.1M1175 649.69l305 198.1M1175 651.65l305 198.1M1175 653.61l305 198.1M1175 655.57l305 198.1M1175 657.53l305 198.1M1175 659.49l305 198.1M1175 661.45l305 198.1M1175 663.41l305 198.1M1175 665.37l305 198.1M1175 667.33l305 198.1M1175 669.29l305 198.1M1175 671.25l305 198.1M1175 673.21l305 198.1M1175 675.17l305 198.1M1175 677.13l305 198.1M1175 679.09l305 198.1M1175 681.05l305 198.1M1175 683.01l305 198.1M1175 684.97l305 198.1M1175 686.93l305 198.1M1175 688.89l305 198.1M1175 690.85l305 198.1M1175 692.81l305 198.1M1175 694.77l305 198.1M1175 696.73l305 198.1M1175 698.69l305 198.1M1175 700.65l305 198.1M1175 702.61l305 198.1M1175 704.57l305 198.1M1175 706.53l305 198.1M1175 708.49l305 198.1M1175 710.45l305 198.1M1175 712.41l305 198.1M1175 714.37l305 198.1M1175 716.33l305 198.1M1175 718.29l305 198.1M1175 720.25l305 198.1M1175 722.21l305 198.1M1175 724.17l305 198.1M1175 726.13l305 198.1M1175 728.09l305 198.1M1175 730.05l305 198.1M1175 732.01l305 198.1M1175 733.97l305 198.1M1175 735.93l305 198.1M1175 737.89l305 198.1M1175 739.85l305 198.1M1175 741.81l305 198.1M1175 743.77l305 198.1M1175 745.73l305 198.1M1175 747.69l305 198.1M1175 749.65l305 198.1M1175 751.61l305 198.1M1175 753.57l305 198.1M1175 755.53l305 198.1M1175 757.49l305 198.1M1175 759.45l305 198.1M1175 761.41l305 198.1M1175 763.37l305 198.1M1175 765.33l305 198.1M1175 767.29l305 198.1M1175 769.25l305 198.1M1175 771.21l305 198.1M1175 773.17l305 198.1M1175 775.13l305 198.1M1175 777.09l305 198.1M1175 779.05l305 198.1M1175 781.01l305 198.1M1175 782.97l305 198.1M1175 784.93l305 198.1M1175 786.89l305 198.1M1175 788.85l305 198.1M1175 790.81l305 198.1M1175 792.77l305 198.1M1175 794.73l305 198.1M1175 796.69l305 198.1M1175 798.65l305 198.1M1175 800.61l305 198.1M1175 802.57l305 198.1M1175 804.53l305 198.1M1175 806.49l305 198.1M1175 808.45l305 198.1M1175 810.41l305 198.1M1175 812.37l305 198.1M1175 814.33l305 198.1M1175 816.29l305 198.1M1175 818.25l305 198.1M1175 820.21l305 198.1M1175 822.17l305 198.1M1175 824.13l305 198.1M1175 826.09l305 198.1M1175 828.05l305 198.1M1175 830.01l305 198.1M1175 831.97l305 198.1M1175 833.93l305 198.1M1175 835.89l305 198.1M1175 837.85l305 198.1M1175 839.81l305 198.1M1175 841.77l305 198.1M1175 843.73l305 198.1M1175 845.69l305 198.1M1175 847.65l305 198.1M1175 849.61l305 198.1M1175 851.57l305 198.1M1175 853.53l305 198.1M1175 855.49l305 198.1M1175 857.45l305 198.1M1175 859.41l305 198.1M1175 861.37l305 198.1M1175 863.33l305 198.1M1175 865.29l305 198.1M1175 867.25l305 198.1M1175 869.21l305 198.1M1175 871.17l305 198.1M1175 873.13l305 198.1M1175 875.09l305 198.1M1175 877.05l305 198.1M1175 879.01l305 198.1M1175 880.97l305 198.1M1175 882.93l305 198.1M1175 884.89l305 198.1M1175 886.85l305 198.1M1175 888.81l305 198.1M1175 890.77l305 198.1M1175 892.73l305 198.1M1175 894.69l305 198.1M1175 896.65l305 198.1M1175 898.61l305 198.1M1175 900.57l305 198.1M1175 902.53l305 198.1M1175 904.49l305 198.1M1175 906.45l305 198.1M1175 908.41l305 198.1M1175 910.37l305 198.1M1175 912.33l305 198.1M1175 914.29l305 198.1M1175 916.25l305 198.1M1175 918.21l305 198.1M1175 920.17l305 198.1M1175 922.13l305 198.1M1175 924.09l305 198.1M1175 926.05l305 198.1M1175 928.01l305 198.1M1175 929.97l305 198.1M1175 931.93l305 198.1M1175 933.89l305 198.1M1175 935.85l305 198.1M1175 937.81l305 198.1M1175 939.77l305 198.1M1175 941.73l305 198.1M1175 943.69l305 198.1M1175 945.65l305 198.1M1175 947.61l305 198.1M1175 949.57l305 198.1"/>
<path id="pb2" d="M1175 640.00l305 -198.1M1175 641.96l305 -198.1M1175 643.92l305 -198.1M1175 645.88l305 -198.1M1175 647.84l305 -198.1M1175 649.80l305 -198.1M1175 651.76l305 -198.1M1175 653.72l305 -198.1M1175 655.68l305 -198.1M1175 657.64l305 -198.1M1175 659.60l305 -198.1M1175 661.56l305 -198.1M1175 663.52l305 -198.1M1175 665.48l305 -198.1M1175 667.44l305 -198.1M1175 669.40l305 -198.1M1175 671.36l305 -198.1M1175 673.32l305 -198.1M1175 675.28l305 -198.1M1175 677.24l305 -198.1M1175 679.20l305 -198.1M1175 681.16l305 -198.1M1175 683.12l305 -198.1M1175 685.08l305 -198.1M1175 687.04l305 -198.1M1175 689.00l305 -198.1M1175 690.96l305 -198.1M1175 692.92l305 -198.1M1175 694.88l305 -198.1M1175 696.84l305 -198.1M1175 698.80l305 -198.1M1175 700.76l305 -198.1M1175 702.72l305 -198.1M1175 704.68l305 -198.1M1175 706.64l305 -198.1M1175 708.60l305 -198.1M1175 710.56l305 -198.1M1175 712.52l305 -198.1M1175 714.48l305 -198.1M1175 716.44l305 -198.1M1175 718.40l305 -198.1M1175 720.36l305 -198.1M1175 722.32l305 -198.1M1175 724.28l305 -198.1M1175 726.24l305 -198.1M1175 728.20l305 -198.1M1175 730.16l305 -198.1M1175 732.12l305 -198.1M1175 734.08l305 -198.1M1175 736.04l305 -198.1M1175 738.00l305 -198.1M1175 739.96l305 -198.1M1175 741.92l305 -198.1M1175 743.88l305 -198.1M1175 745.84l305 -198.1M1175 747.80l305 -198.1M1175 749.76l305 -198.1M1175 751.72l305 -198.1M1175 753.68l305 -198.1M1175 755.64l305 -198.1M1175 757.60l305 -198.1M1175 759.56l305 -198.1M1175 761.52l305 -198.1M1175 763.48l305 -198.1M1175 765.44l305 -198.1M1175 767.40l305 -198.1M1175 769.36l305 -198.1M1175 771.32l305 -198.1M1175 773.28l305 -198.1M1175 775.24l305 -198.1M1175 777.20l305 -198.1M1175 779.16l305 -198.1M1175 781.12l305 -198.1M1175 783.08l305 -198.1M1175 785.04l305 -198.1M1175 787.00l305 -198.1M1175 788.96l305 -198.1M1175 790.92l305 -198.1M1175 792.88l305 -198.1M1175 794.84l305 -198.1M1175 796.80l305 -198.1M1175 798.76l305 -198.1M1175 800.72l305 -198.1M1175 802.68l305 -198.1M1175 804.64l305 -198.1M1175 806.60l305 -198.1M1175 808.56l305 -198.1M1175 810.52l305 -198.1M1175 812.48l305 -198.1M1175 814.44l305 -198.1M1175 816.40l305 -198.1M1175 818.36l305 -198.1M1175 820.32l305 -198.1M1175 822.28l305 -198.1M1175 824.24l305 -198.1M1175 826.20l305 -198.1M1175 828.16l305 -198.1M1175 830.12l305 -198.1M1175 832.08l305 -198.1M1175 834.04l305 -198.1M1175 836.00l305 -198.1M1175 837.96l305 -198.1M1175 839.92l305 -198.1M1175 841.88l305 -198.1M1175 843.84l305 -198.1M1175 845.80l305 -198.1M1175 847.76l305 -198.1M1175 849.72l305 -198.1M1175 851.68l305 -198.1M1175 853.64l305 -198.1M1175 855.60l305 -198.1M1175 857.56l305 -198.1M1175 859.52l305 -198.1M1175 861.48l305 -198.1M1175 863.44l305 -198.1M1175 865.40l305 -198.1M1175 867.36l305 -198.1M1175 869.32l305 -198.1M1175 871.28l305 -198.1M1175 873.24l305 -198.1M1175 875.20l305 -198.1M1175 877.16l305 -198.1M1175 879.12l305 -198.1M1175 881.08l305 -198.1M1175 883.04l305 -198.1M1175 885.00l305 -198.1M1175 886.96l305 -198.1M1175 888.92l305 -198.1M1175 890.88l305 -198.1M1175 892.84l305 -198.1M1175 894.80l305 -198.1M1175 896.76l305 -198.1M1175 898.72l305 -198.1M1175 900.68l305 -198.1M1175 902.64l305 -198.1M1175 904.60l305 -198.1M1175 906.56l305 -198.1M1175 908.52l305 -198.1M1175 910.48l305 -198.1M1175 912.44l305 -198.1M1175 914.40l305 -198.1M1175 916.36l305 -198.1M1175 918.32l305 -198.1M1175 920.28l305 -198.1M1175 922.24l305 -198.1M1175 924.20l305 -198.1M1175 926.16l305 -198.1M1175 928.12l305 -198.1M1175 930.08l305 -198.1M1175 932.04l305 -198.1M1175 934.00l305 -198.1M1175 935.96l305 -198.1M1175 937.92l305 -198.1M1175 939.88l305 -198.1M1175 941.84l305 -198.1M1175 943.80l305 -198.1M1175 945.76l305 -198.1M1175 947.72l305 -198.1M1175 949.68l305 -198.1M1175 951.64l305 -198.1M1175 953.60l305 -198.1M1175 955.56l305 -198.1M1175 957.52l305 -198.1M1175 959.48l305 -198.1M1175 961.44l305 -198.1M1175 963.40l305 -198.1M1175 965.36l305 -198.1M1175 967.32l305 -198.1M1175 969.28l305 -198.1M1175 971.24l305 -198.1M1175 973.20l305 -198.1M1175 975.16l305 -198.1M1175 977.12l305 -198.1M1175 979.08l305 -198.1M1175 981.04l305 -198.1M1175 983.00l305 -198.1M1175 984.96l305 -198.1M1175 986.92l305 -198.1M1175 988.88l305 -198.1M1175 990.84l305 -198.1M1175 992.80l305 -198.1M1175 994.76l305 -198.1M1175 996.72l305 -198.1M1175 998.68l305 -198.1M1175 1000.64l305 -198.1M1175 1002.60l305 -198.1M1175 1004.56l305 -198.1M1175 1006.52l305 -198.1M1175 1008.48l305 -198.1M1175 1010.44l305 -198.1M1175 1012.40l305 -198.1M1175 1014.36l305 -198.1M1175 1016.32l305 -198.1M1175 1018.28l305 -198.1M1175 1020.24l305 -198.1M1175 1022.20l305 -198.1M1175 1024.16l305 -198.1M1175 1026.12l305 -198.1M1175 1028.08l305 -198.1M1175 1030.04l305 -198.1M1175 1032.00l305 -198.1M1175 1033.96l305 -198.1M1175 1035.92l305 -198.1M1175 1037.88l305 -198.1M1175 1039.84l305 -198.1M1175 1041.80l305 -198.1M1175 1043.76l305 -198.1M1175 1045.72l305 -198.1M1175 1047.68l305 -198.1M1175 1049.64l305 -198.1M1175 1051.60l305 -198.1M1175 1053.56l305 -198.1M1175 1055.52l305 -198.1M1175 1057.48l305 -198.1M1175 1059.44l305 -198.1M1175 1061.40l305 -198.1M1175 1063.36l305 -198.1M1175 1065.32l305 -198.1M1175 1067.28l305 -198.1M1175 1069.24l305 -198.1M1175 1071.20l305 -198.1M1175 1073.16l305 -198.1M1175 1075.12l305 -198.1M1175 1077.08l305 -198.1M1175 1079.04l305 -198.1M1175 1081.00l305 -198.1M1175 1082.96l305 -198.1M1175 1084.92l305 -198.1M1175 1086.88l305 -198.1M1175 1088.84l305 -198.1M1175 1090.80l305 -198.1M1175 1092.76l305 -198.1M1175 1094.72l305 -198.1M1175 1096.68l305 -198.1M1175 1098.64l305 -198.1M1175 1100.60l305 -198.1M1175 1102.56l305 -198.1M1175 1104.52l305 -198.1M1175 1106.48l305 -198.1M1175 1108.44l305 -198.1M1175 1110.40l305 -198.1M1175 1112.36l305 -198.1M1175 1114.32l305 -198.1M1175 1116.28l305 -198.1M1175 1118.24l305 -198.1M1175 1120.20l305 -198.1M1175 1122.16l305 -198.1M1175 1124.12l305 -198.1M1175 1126.08l305 -198.1M1175 1128.04l305 -198.1M1175 1130.00l305 -198.1M1175 1131.96l305 -198.1M1175 1133.92l305 -198.1M1175 1135.88l305 -198.1M1175 1137.84l305 -198.1M1175 1139.80l305 -198.1M1175 1141.76l305 -198.1M1175 1143.72l305 -198.1M1175 1145.68l305 -198.1M1175 1147.64l305 -198.1"/>
<path id="pr1" d="M1175 470.94l305 169.1M1175 472.90l305 169.1M1175 474.86l305 169.1M1175 476.82l305 169.1M1175 478.78l305 169.1M1175 480.74l305 169.1M1175 482.70l305 169.1M1175 484.66l305 169.1M1175 486.62l305 169.1M1175 488.58l305 169.1M1175 490.54l305 169.1M1175 492.50l305 169.1M1175 494.46l305 169.1M1175 496.42l305 169.1M1175 498.38l305 169.1M1175 500.34l305 169.1M1175 502.30l305 169.1M1175 504.26l305 169.1M1175 506.22l305 169.1M1175 508.18l305 169.1M1175 510.14l305 169.1M1175 512.10l305 169.1M1175 514.06l305 169.1M1175 516.02l305 169.1M1175 517.98l305 169.1M1175 519.94l305 169.1M1175 521.90l305 169.1M1175 523.86l305 169.1M1175 525.82l305 169.1M1175 527.78l305 169.1M1175 529.74l305 169.1M1175 531.70l305 169.1M1175 533.66l305 169.1M1175 535.62l305 169.1M1175 537.58l305 169.1M1175 539.54l305 169.1M1175 541.50l305 169.1M1175 543.46l305 169.1M1175 545.42l305 169.1M1175 547.38l305 169.1M1175 549.34l305 169.1M1175 551.30l305 169.1M1175 553.26l305 169.1M1175 555.22l305 169.1M1175 557.18l305 169.1M1175 559.14l305 169.1M1175 561.10l305 169.1M1175 563.06l305 169.1M1175 565.02l305 169.1M1175 566.98l305 169.1M1175 568.94l305 169.1M1175 570.90l305 169.1M1175 572.86l305 169.1M1175 574.82l305 169.1M1175 576.78l305 169.1M1175 578.74l305 169.1M1175 580.70l305 169.1M1175 582.66l305 169.1M1175 584.62l305 169.1M1175 586.58l305 169.1M1175 588.54l305 169.1M1175 590.50l305 169.1M1175 592.46l305 169.1M1175 594.42l305 169.1M1175 596.38l305 169.1M1175 598.34l305 169.1M1175 600.30l305 169.1M1175 602.26l305 169.1M1175 604.22l305 169.1M1175 606.18l305 169.1M1175 608.14l305 169.1M1175 610.10l305 169.1M1175 612.06l305 169.1M1175 614.02l305 169.1M1175 615.98l305 169.1M1175 617.94l305 169.1M1175 619.90l305 169.1M1175 621.86l305 169.1M1175 623.82l305 169.1M1175 625.78l305 169.1M1175 627.74l305 169.1M1175 629.70l305 169.1M1175 631.66l305 169.1M1175 633.62l305 169.1M1175 635.58l305 169.1M1175 637.54l305 169.1M1175 639.50l305 169.1M1175 641.46l305 169.1M1175 643.42l305 169.1M1175 645.38l305 169.1M1175 647.34l305 169.1M1175 649.30l305 169.1M1175 651.26l305 169.1M1175 653.22l305 169.1M1175 655.18l305 169.1M1175 657.14l305 169.1M1175 659.10l305 169.1M1175 661.06l305 169.1M1175 663.02l305 169.1M1175 664.98l305 169.1M1175 666.94l305 169.1M1175 668.90l305 169.1M1175 670.86l305 169.1M1175 672.82l305 169.1M1175 674.78l305 169.1M1175 676.74l305 169.1M1175 678.70l305 169.1M1175 680.66l305 169.1M1175 682.62l305 169.1M1175 684.58l305 169.1M1175 686.54l305 169.1M1175 688.50l305 169.1M1175 690.46l305 169.1M1175 692.42l305 169.1M1175 694.38l305 169.1M1175 696.34l305 169.1M1175 698.30l305 169.1M1175 700.26l305 169.1M1175 702.22l305 169.1M1175 704.18l305 169.1M1175 706.14l305 169.1M1175 708.10l305 169.1M1175 710.06l305 169.1M1175 712.02l305 169.1M1175 713.98l305 169.1M1175 715.94l305 169.1M1175 717.90l305 169.1M1175 719.86l305 169.1M1175 721.82l305 169.1M1175 723.78l305 169.1M1175 725.74l305 169.1M1175 727.70l305 169.1M1175 729.66l305 169.1M1175 731.62l305 169.1M1175 733.58l305 169.1M1175 735.54l305 169.1M1175 737.50l305 169.1M1175 739.46l305 169.1M1175 741.42l305 169.1M1175 743.38l305 169.1M1175 745.34l305 169.1M1175 747.30l305 169.1M1175 749.26l305 169.1M1175 751.22l305 169.1M1175 753.18l305 169.1M1175 755.14l305 169.1M1175 757.10l305 169.1M1175 759.06l305 169.1M1175 761.02l305 169.1M1175 762.98l305 169.1M1175 764.94l305 169.1M1175 766.90l305 169.1M1175 768.86l305 169.1M1175 770.82l305 169.1M1175 772.78l305 169.1M1175 774.74l305 169.1M1175 776.70l305 169.1M1175 778.66l305 169.1M1175 780.62l305 169.1M1175 782.58l305 169.1M1175 784.54l305 169.1M1175 786.50l305 169.1M1175 788.46l305 169.1M1175 790.42l305 169.1M1175 792.38l305 169.1M1175 794.34l305 169.1M1175 796.30l305 169.1M1175 798.26l305 169.1M1175 800.22l305 169.1M1175 802.18l305 169.1M1175 804.14l305 169.1M1175 806.10l305 169.1M1175 808.06l305 169.1M1175 810.02l305 169.1M1175 811.98l305 169.1M1175 813.94l305 169.1M1175 815.90l305 169.1M1175 817.86l305 169.1M1175 819.82l305 169.1M1175 821.78l305 169.1M1175 823.74l305 169.1M1175 825.70l305 169.1M1175 827.66l305 169.1M1175 829.62l305 169.1M1175 831.58l305 169.1M1175 833.54l305 169.1M1175 835.50l305 169.1M1175 837.46l305 169.1M1175 839.42l305 169.1M1175 841.38l305 169.1M1175 843.34l305 169.1M1175 845.30l305 169.1M1175 847.26l305 169.1M1175 849.22l305 169.1M1175 851.18l305 169.1M1175 853.14l305 169.1M1175 855.10l305 169.1M1175 857.06l305 169.1M1175 859.02l305 169.1M1175 860.98l305 169.1M1175 862.94l305 169.1M1175 864.90l305 169.1M1175 866.86l305 169.1M1175 868.82l305 169.1M1175 870.78l305 169.1M1175 872.74l305 169.1M1175 874.70l305 169.1M1175 876.66l305 169.1M1175 878.62l305 169.1M1175 880.58l305 169.1M1175 882.54l305 169.1M1175 884.50l305 169.1M1175 886.46l305 169.1M1175 888.42l305 169.1M1175 890.38l305 169.1M1175 892.34l305 169.1M1175 894.30l305 169.1M1175 896.26l305 169.1M1175 898.22l305 169.1M1175 900.18l305 169.1M1175 902.14l305 169.1M1175 904.10l305 169.1M1175 906.06l305 169.1M1175 908.02l305 169.1M1175 909.98l305 169.1M1175 911.94l305 169.1M1175 913.90l305 169.1M1175 915.86l305 169.1M1175 917.82l305 169.1M1175 919.78l305 169.1M1175 921.74l305 169.1M1175 923.70l305 169.1M1175 925.66l305 169.1M1175 927.62l305 169.1M1175 929.58l305 169.1M1175 931.54l305 169.1M1175 933.50l305 169.1M1175 935.46l305 169.1M1175 937.42l305 169.1M1175 939.38l305 169.1M1175 941.34l305 169.1M1175 943.30l305 169.1M1175 945.26l305 169.1M1175 947.22l305 169.1M1175 949.18l305 169.1"/>
<path id="pr2" d="M1175 640.00l305 -169.1M1175 641.96l305 -169.1M1175 643.92l305 -169.1M1175 645.88l305 -169.1M1175 647.84l305 -169.1M1175 649.80l305 -169.1M1175 651.76l305 -169.1M1175 653.72l305 -169.1M1175 655.68l305 -169.1M1175 657.64l305 -169.1M1175 659.60l305 -169.1M1175 661.56l305 -169.1M1175 663.52l305 -169.1M1175 665.48l305 -169.1M1175 667.44l305 -169.1M1175 669.40l305 -169.1M1175 671.36l305 -169.1M1175 673.32l305 -169.1M1175 675.28l305 -169.1M1175 677.24l305 -169.1M1175 679.20l305 -169.1M1175 681.16l305 -169.1M1175 683.12l305 -169.1M1175 685.08l305 -169.1M1175 687.04l305 -169.1M1175 689.00l305 -169.1M1175 690.96l305 -169.1M1175 692.92l305 -169.1M1175 694.88l305 -169.1M1175 696.84l305 -169.1M1175 698.80l305 -169.1M1175 700.76l305 -169.1M1175 702.72l305 -169.1M1175 704.68l305 -169.1M1175 706.64l305 -169.1M1175 708.60l305 -169.1M1175 710.56l305 -169.1M1175 712.52l305 -169.1M1175 714.48l305 -169.1M1175 716.44l305 -169.1M1175 718.40l305 -169.1M1175 720.36l305 -169.1M1175 722.32l305 -169.1M1175 724.28l305 -169.1M1175 726.24l305 -169.1M1175 728.20l305 -169.1M1175 730.16l305 -169.1M1175 732.12l305 -169.1M1175 734.08l305 -169.1M1175 736.04l305 -169.1M1175 738.00l305 -169.1M1175 739.96l305 -169.1M1175 741.92l305 -169.1M1175 743.88l305 -169.1M1175 745.84l305 -169.1M1175 747.80l305 -169.1M1175 749.76l305 -169.1M1175 751.72l305 -169.1M1175 753.68l305 -169.1M1175 755.64l305 -169.1M1175 757.60l305 -169.1M1175 759.56l305 -169.1M1175 761.52l305 -169.1M1175 763.48l305 -169.1M1175 765.44l305 -169.1M1175 767.40l305 -169.1M1175 769.36l305 -169.1M1175 771.32l305 -169.1M1175 773.28l305 -169.1M1175 775.24l305 -169.1M1175 777.20l305 -169.1M1175 779.16l305 -169.1M1175 781.12l305 -169.1M1175 783.08l305 -169.1M1175 785.04l305 -169.1M1175 787.00l305 -169.1M1175 788.96l305 -169.1M1175 790.92l305 -169.1M1175 792.88l305 -169.1M1175 794.84l305 -169.1M1175 796.80l305 -169.1M1175 798.76l305 -169.1M1175 800.72l305 -169.1M1175 802.68l305 -169.1M1175 804.64l305 -169.1M1175 806.60l305 -169.1M1175 808.56l305 -169.1M1175 810.52l305 -169.1M1175 812.48l305 -169.1M1175 814.44l305 -169.1M1175 816.40l305 -169.1M1175 818.36l305 -169.1M1175 820.32l305 -169.1M1175 822.28l305 -169.1M1175 824.24l305 -169.1M1175 826.20l305 -169.1M1175 828.16l305 -169.1M1175 830.12l305 -169.1M1175 832.08l305 -169.1M1175 834.04l305 -169.1M1175 836.00l305 -169.1M1175 837.96l305 -169.1M1175 839.92l305 -169.1M1175 841.88l305 -169.1M1175 843.84l305 -169.1M1175 845.80l305 -169.1M1175 847.76l305 -169.1M1175 849.72l305 -169.1M1175 851.68l305 -169.1M1175 853.64l305 -169.1M1175 855.60l305 -169.1M1175 857.56l305 -169.1M1175 859.52l305 -169.1M1175 861.48l305 -169.1M1175 863.44l305 -169.1M1175 865.40l305 -169.1M1175 867.36l305 -169.1M1175 869.32l305 -169.1M1175 871.28l305 -169.1M1175 873.24l305 -169.1M1175 875.20l305 -169.1M1175 877.16l305 -169.1M1175 879.12l305 -169.1M1175 881.08l305 -169.1M1175 883.04l305 -169.1M1175 885.00l305 -169.1M1175 886.96l305 -169.1M1175 888.92l305 -169.1M1175 890.88l305 -169.1M1175 892.84l305 -169.1M1175 894.80l305 -169.1M1175 896.76l305 -169.1M1175 898.72l305 -169.1M1175 900.68l305 -169.1M1175 902.64l305 -169.1M1175 904.60l305 -169.1M1175 906.56l305 -169.1M1175 908.52l305 -169.1M1175 910.48l305 -169.1M1175 912.44l305 -169.1M1175 914.40l305 -169.1M1175 916.36l305 -169.1M1175 918.32l305 -169.1M1175 920.28l305 -169.1M1175 922.24l305 -169.1M1175 924.20l305 -169.1M1175 926.16l305 -169.1M1175 928.12l305 -169.1M1175 930.08l305 -169.1M1175 932.04l305 -169.1M1175 934.00l305 -169.1M1175 935.96l305 -169.1M1175 937.92l305 -169.1M1175 939.88l305 -169.1M1175 941.84l305 -169.1M1175 943.80l305 -169.1M1175 945.76l305 -169.1M1175 947.72l305 -169.1M1175 949.68l305 -169.1M1175 951.64l305 -169.1M1175 953.60l305 -169.1M1175 955.56l305 -169.1M1175 957.52l305 -169.1M1175 959.48l305 -169.1M1175 961.44l305 -169.1M1175 963.40l305 -169.1M1175 965.36l305 -169.1M1175 967.32l305 -169.1M1175 969.28l305 -169.1M1175 971.24l305 -169.1M1175 973.20l305 -169.1M1175 975.16l305 -169.1M1175 977.12l305 -169.1M1175 979.08l305 -169.1M1175 981.04l305 -169.1M1175 983.00l305 -169.1M1175 984.96l305 -169.1M1175 986.92l305 -169.1M1175 988.88l305 -169.1M1175 990.84l305 -169.1M1175 992.80l305 -169.1M1175 994.76l305 -169.1M1175 996.72l305 -169.1M1175 998.68l305 -169.1M1175 1000.64l305 -169.1M1175 1002.60l305 -169.1M1175 1004.56l305 -169.1M1175 1006.52l305 -169.1M1175 1008.48l305 -169.1M1175 1010.44l305 -169.1M1175 1012.40l305 -169.1M1175 1014.36l305 -169.1M1175 1016.32l305 -169.1M1175 1018.28l305 -169.1M1175 1020.24l305 -169.1M1175 1022.20l305 -169.1M1175 1024.16l305 -169.1M1175 1026.12l305 -169.1M1175 1028.08l305 -169.1M1175 1030.04l305 -169.1M1175 1032.00l305 -169.1M1175 1033.96l305 -169.1M1175 1035.92l305 -169.1M1175 1037.88l305 -169.1M1175 1039.84l305 -169.1M1175 1041.80l305 -169.1M1175 1043.76l305 -169.1M1175 1045.72l305 -169.1M1175 1047.68l305 -169.1M1175 1049.64l305 -169.1M1175 1051.60l305 -169.1M1175 1053.56l305 -169.1M1175 1055.52l305 -169.1M1175 1057.48l305 -169.1M1175 1059.44l305 -169.1M1175 1061.40l305 -169.1M1175 1063.36l305 -169.1M1175 1065.32l305 -169.1M1175 1067.28l305 -169.1M1175 1069.24l305 -169.1M1175 1071.20l305 -169.1M1175 1073.16l305 -169.1M1175 1075.12l305 -169.1M1175 1077.08l305 -169.1M1175 1079.04l305 -169.1M1175 1081.00l305 -169.1M1175 1082.96l305 -169.1M1175 1084.92l305 -169.1M1175 1086.88l305 -169.1M1175 1088.84l305 -169.1M1175 1090.80l305 -169.1M1175 1092.76l305 -169.1M1175 1094.72l305 -169.1M1175 1096.68l305 -169.1M1175 1098.64l305 -169.1M1175 1100.60l305 -169.1M1175 1102.56l305 -169.1M1175 1104.52l305 -169.1M1175 1106.48l305 -169.1M1175 1108.44l305 -169.1M1175 1110.40l305 -169.1M1175 1112.36l305 -169.1M1175 1114.32l305 -169.1M1175 1116.28l305 -169.1M1175 1118.24l305 -169.1"/>
<path id="pg" d="M1175 393.02l305 247.0M1175 395.02l305 247.0M1175 397.02l305 247.0M1175 399.02l305 247.0M1175 401.02l305 247.0M1175 403.02l305 247.0M1175 405.02l305 247.0M1175 407.02l305 247.0M1175 409.02l305 247.0M1175 411.02l305 247.0M1175 413.02l305 247.0M1175 415.02l305 247.0M1175 417.02l305 247.0M1175 419.02l305 247.0M1175 421.02l305 247.0M1175 423.02l305 247.0M1175 425.02l305 247.0M1175 427.02l305 247.0M1175 429.02l305 247.0M1175 431.02l305 247.0M1175 433.02l305 247.0M1175 435.02l305 247.0M1175 437.02l305 247.0M1175 439.02l305 247.0M1175 441.02l305 247.0M1175 443.02l305 247.0M1175 445.02l305 247.0M1175 447.02l305 247.0M1175 449.02l305 247.0M1175 451.02l305 247.0M1175 453.02l305 247.0M1175 455.02l305 247.0M1175 457.02l305 247.0M1175 459.02l305 247.0M1175 461.02l305 247.0M1175 463.02l305 247.0M1175 465.02l305 247.0M1175 467.02l305 247.0M1175 469.02l305 247.0M1175 471.02l305 247.0M1175 473.02l305 247.0M1175 475.02l305 247.0M1175 477.02l305 247.0M1175 479.02l305 247.0M1175 481.02l305 247.0M1175 483.02l305 247.0M1175 485.02l305 247.0M1175 487.02l305 247.0M1175 489.02l305 247.0M1175 491.02l305 247.0M1175 493.02l305 247.0M1175 495.02l305 247.0M1175 497.02l305 247.0M1175 499.02l305 247.0M1175 501.02l305 247.0M1175 503.02l305 247.0M1175 505.02l305 247.0M1175 507.02l305 247.0M1175 509.02l305 247.0M1175 511.02l305 247.0M1175 513.02l305 247.0M1175 515.02l305 247.0M1175 517.02l305 247.0M1175 519.02l305 247.0M1175 521.02l305 247.0M1175 523.02l305 247.0M1175 525.02l305 247.0M1175 527.02l305 247.0M1175 529.02l305 247.0M1175 531.02l305 247.0M1175 533.02l305 247.0M1175 535.02l305 247.0M1175 537.02l305 247.0M1175 539.02l305 247.0M1175 541.02l305 247.0M1175 543.02l305 247.0M1175 545.02l305 247.0M1175 547.02l305 247.0M1175 549.02l305 247.0M1175 551.02l305 247.0M1175 553.02l305 247.0M1175 555.02l305 247.0M1175 557.02l305 247.0M1175 559.02l305 247.0M1175 561.02l305 247.0M1175 563.02l305 247.0M1175 565.02l305 247.0M1175 567.02l305 247.0M1175 569.02l305 247.0M1175 571.02l305 247.0M1175 573.02l305 247.0M1175 575.02l305 247.0M1175 577.02l305 247.0M1175 579.02l305 247.0M1175 581.02l305 247.0M1175 583.02l305 247.0M1175 585.02l305 247.0M1175 587.02l305 247.0M1175 589.02l305 247.0M1175 591.02l305 247.0M1175 593.02l305 247.0M1175 595.02l305 247.0M1175 597.02l305 247.0M1175 599.02l305 247.0M1175 601.02l305 247.0M1175 603.02l305 247.0M1175 605.02l305 247.0M1175 607.02l305 247.0M1175 609.02l305 247.0M1175 611.02l305 247.0M1175 613.02l305 247.0M1175 615.02l305 247.0M1175 617.02l305 247.0M1175 619.02l305 247.0M1175 621.02l305 247.0M1175 623.02l305 247.0M1175 625.02l305 247.0M1175 627.02l305 247.0M1175 629.02l305 247.0M1175 631.02l305 247.0M1175 633.02l305 247.0M1175 635.02l305 247.0M1175 637.02l305 247.0M1175 639.02l305 247.0M1175 641.02l305 247.0M1175 643.02l305 247.0M1175 645.02l305 247.0M1175 647.02l305 247.0M1175 649.02l305 247.0M1175 651.02l305 247.0M1175 653.02l305 247.0M1175 655.02l305 247.0M1175 657.02l305 247.0M1175 659.02l305 247.0M1175 661.02l305 247.0M1175 663.02l305 247.0M1175 665.02l305 247.0M1175 667.02l305 247.0M1175 669.02l305 247.0M1175 671.02l305 247.0M1175 673.02l305 247.0M1175 675.02l305 247.0M1175 677.02l305 247.0M1175 679.02l305 247.0M1175 681.02l305 247.0M1175 683.02l305 247.0M1175 685.02l305 247.0M1175 687.02l305 247.0M1175 689.02l305 247.0M1175 691.02l305 247.0M1175 693.02l305 247.0M1175 695.02l305 247.0M1175 697.02l305 247.0M1175 699.02l305 247.0M1175 701.02l305 247.0M1175 703.02l305 247.0M1175 705.02l305 247.0M1175 707.02l305 247.0M1175 709.02l305 247.0M1175 711.02l305 247.0M1175 713.02l305 247.0M1175 715.02l305 247.0M1175 717.02l305 247.0M1175 719.02l305 247.0M1175 721.02l305 247.0M1175 723.02l305 247.0M1175 725.02l305 247.0M1175 727.02l305 247.0M1175 729.02l305 247.0M1175 731.02l305 247.0M1175 733.02l305 247.0M1175 735.02l305 247.0M1175 737.02l305 247.0M1175 739.02l305 247.0M1175 741.02l305 247.0M1175 743.02l305 247.0M1175 745.02l305 247.0M1175 747.02l305 247.0M1175 749.02l305 247.0M1175 751.02l305 247.0M1175 753.02l305 247.0M1175 755.02l305 247.0M1175 757.02l305 247.0M1175 759.02l305 247.0M1175 761.02l305 247.0M1175 763.02l305 247.0M1175 765.02l305 247.0M1175 767.02l305 247.0M1175 769.02l305 247.0M1175 771.02l305 247.0M1175 773.02l305 247.0M1175 775.02l305 247.0M1175 777.02l305 247.0M1175 779.02l305 247.0M1175 781.02l305 247.0M1175 783.02l305 247.0M1175 785.02l305 247.0M1175 787.02l305 247.0M1175 789.02l305 247.0M1175 791.02l305 247.0M1175 793.02l305 247.0M1175 795.02l305 247.0M1175 797.02l305 247.0M1175 799.02l305 247.0M1175 801.02l305 247.0M1175 803.02l305 247.0M1175 805.02l305 247.0M1175 807.02l305 247.0M1175 809.02l305 247.0M1175 811.02l305 247.0M1175 813.02l305 247.0M1175 815.02l305 247.0M1175 817.02l305 247.0M1175 819.02l305 247.0M1175 821.02l305 247.0M1175 823.02l305 247.0M1175 825.02l305 247.0M1175 827.02l305 247.0M1175 829.02l305 247.0M1175 831.02l305 247.0M1175 833.02l305 247.0M1175 835.02l305 247.0M1175 837.02l305 247.0M1175 839.02l305 247.0M1175 841.02l305 247.0M1175 843.02l305 247.0M1175 845.02l305 247.0M1175 847.02l305 247.0M1175 849.02l305 247.0M1175 851.02l305 247.0M1175 853.02l305 247.0M1175 855.02l305 247.0M1175 857.02l305 247.0M1175 859.02l305 247.0M1175 861.02l305 247.0M1175 863.02l305 247.0M1175 865.02l305 247.0M1175 867.02l305 247.0M1175 869.02l305 247.0M1175 871.02l305 247.0M1175 873.02l305 247.0M1175 875.02l305 247.0M1175 877.02l305 247.0M1175 879.02l305 247.0M1175 881.02l305 247.0M1175 883.02l305 247.0M1175 885.02l305 247.0M1175 887.02l305 247.0M1175 889.02l305 247.0M1175 891.02l305 247.0M1175 893.02l305 247.0M1175 895.02l305 247.0M1175 897.02l305 247.0M1175 899.02l305 247.0M1175 901.02l305 247.0M1175 903.02l305 247.0M1175 905.02l305 247.0M1175 907.02l305 247.0M1175 909.02l305 247.0M1175 911.02l305 247.0M1175 913.02l305 247.0M1175 915.02l305 247.0M1175 917.02l305 247.0M1175 919.02l305 247.0M1175 921.02l305 247.0M1175 923.02l305 247.0M1175 925.02l305 247.0M1175 927.02l305 247.0M1175 929.02l305 247.0M1175 931.02l305 247.0M1175 933.02l305 247.0M1175 935.02l305 247.0M1175 937.02l305 247.0M1175 939.02l305 247.0M1175 941.02l305 247.0M1175 943.02l305 247.0M1175 945.02l305 247.0M1175 947.02l305 247.0M1175 949.02l305 247.0"/>
<path id="lb1" d="M1228 298.81l42 31.2M1228 301.86l42 31.2M1228 304.91l42 31.2M1228 307.96l42 31.2M1228 311.01l42 31.2M1228 314.06l42 31.2M1228 317.11l42 31.2M1228 320.16l42 31.2M1228 323.21l42 31.2M1228 326.26l42 31.2M1228 329.31l42 31.2M1228 332.36l42 31.2M1228 335.41l42 31.2M1228 338.46l42 31.2M1228 341.51l42 31.2M1228 344.56l42 31.2M1228 347.61l42 31.2M1228 350.66l42 31.2M1228 353.71l42 31.2M1228 356.76l42 31.2M1228 359.81l42 31.2M1228 362.86l42 31.2M1228 365.91l42 31.2M1228 368.96l42 31.2M1228 372.01l42 31.2M1228 375.06l42 31.2M1228 378.11l42 31.2M1228 381.16l42 31.2M1228 384.21l42 31.2M1228 387.26l42 31.2M1228 390.31l42 31.2M1228 393.36l42 31.2M1228 396.41l42 31.2M1228 399.46l42 31.2M1228 402.51l42 31.2M1228 405.56l42 31.2M1228 408.61l42 31.2M1228 411.66l42 31.2M1228 414.71l42 31.2M1228 417.76l42 31.2M1228 420.81l42 31.2M1228 423.86l42 31.2M1228 426.91l42 31.2M1228 429.96l42 31.2"/>
<path id="lb2" d="M1228 330.00l42 -31.2M1228 333.05l42 -31.2M1228 336.10l42 -31.2M1228 339.15l42 -31.2M1228 342.20l42 -31.2M1228 345.25l42 -31.2M1228 348.30l42 -31.2M1228 351.35l42 -31.2M1228 354.40l42 -31.2M1228 357.45l42 -31.2M1228 360.50l42 -31.2M1228 363.55l42 -31.2M1228 366.60l42 -31.2M1228 369.65l42 -31.2M1228 372.70l42 -31.2M1228 375.75l42 -31.2M1228 378.80l42 -31.2M1228 381.85l42 -31.2M1228 384.90l42 -31.2M1228 387.95l42 -31.2M1228 391.00l42 -31.2M1228 394.05l42 -31.2M1228 397.10l42 -31.2M1228 400.15l42 -31.2M1228 403.20l42 -31.2M1228 406.25l42 -31.2M1228 409.30l42 -31.2M1228 412.35l42 -31.2M1228 415.40l42 -31.2M1228 418.45l42 -31.2M1228 421.50l42 -31.2M1228 424.55l42 -31.2M1228 427.60l42 -31.2M1228 430.65l42 -31.2M1228 433.70l42 -31.2M1228 436.75l42 -31.2M1228 439.80l42 -31.2M1228 442.85l42 -31.2M1228 445.90l42 -31.2M1228 448.95l42 -31.2M1228 452.00l42 -31.2M1228 455.05l42 -31.2M1228 458.10l42 -31.2M1228 461.15l42 -31.2"/>
<path id="lr1" d="M1228 309.06l42 20.9M1228 311.61l42 20.9M1228 314.16l42 20.9M1228 316.71l42 20.9M1228 319.26l42 20.9M1228 321.81l42 20.9M1228 324.36l42 20.9M1228 326.91l42 20.9M1228 329.46l42 20.9M1228 332.01l42 20.9M1228 334.56l42 20.9M1228 337.11l42 20.9M1228 339.66l42 20.9M1228 342.21l42 20.9M1228 344.76l42 20.9M1228 347.31l42 20.9M1228 349.86l42 20.9M1228 352.41l42 20.9M1228 354.96l42 20.9M1228 357.51l42 20.9M1228 360.06l42 20.9M1228 362.61l42 20.9M1228 365.16l42 20.9M1228 367.71l42 20.9M1228 370.26l42 20.9M1228 372.81l42 20.9M1228 375.36l42 20.9M1228 377.91l42 20.9M1228 380.46l42 20.9M1228 383.01l42 20.9M1228 385.56l42 20.9M1228 388.11l42 20.9M1228 390.66l42 20.9M1228 393.21l42 20.9M1228 395.76l42 20.9M1228 398.31l42 20.9M1228 400.86l42 20.9M1228 403.41l42 20.9M1228 405.96l42 20.9M1228 408.51l42 20.9M1228 411.06l42 20.9M1228 413.61l42 20.9M1228 416.16l42 20.9M1228 418.71l42 20.9M1228 421.26l42 20.9M1228 423.81l42 20.9M1228 426.36l42 20.9M1228 428.91l42 20.9"/>
<path id="lr2" d="M1228 330.00l42 -20.9M1228 332.55l42 -20.9M1228 335.10l42 -20.9M1228 337.65l42 -20.9M1228 340.20l42 -20.9M1228 342.75l42 -20.9M1228 345.30l42 -20.9M1228 347.85l42 -20.9M1228 350.40l42 -20.9M1228 352.95l42 -20.9M1228 355.50l42 -20.9M1228 358.05l42 -20.9M1228 360.60l42 -20.9M1228 363.15l42 -20.9M1228 365.70l42 -20.9M1228 368.25l42 -20.9M1228 370.80l42 -20.9M1228 373.35l42 -20.9M1228 375.90l42 -20.9M1228 378.45l42 -20.9M1228 381.00l42 -20.9M1228 383.55l42 -20.9M1228 386.10l42 -20.9M1228 388.65l42 -20.9M1228 391.20l42 -20.9M1228 393.75l42 -20.9M1228 396.30l42 -20.9M1228 398.85l42 -20.9M1228 401.40l42 -20.9M1228 403.95l42 -20.9M1228 406.50l42 -20.9M1228 409.05l42 -20.9M1228 411.60l42 -20.9M1228 414.15l42 -20.9M1228 416.70l42 -20.9M1228 419.25l42 -20.9M1228 421.80l42 -20.9M1228 424.35l42 -20.9M1228 426.90l42 -20.9M1228 429.45l42 -20.9M1228 432.00l42 -20.9M1228 434.55l42 -20.9M1228 437.10l42 -20.9M1228 439.65l42 -20.9M1228 442.20l42 -20.9M1228 444.75l42 -20.9M1228 447.30l42 -20.9M1228 449.85l42 -20.9"/>
<path id="lg" d="M1228 300.04l42 30.0M1228 302.56l42 30.0M1228 305.08l42 30.0M1228 307.60l42 30.0M1228 310.12l42 30.0M1228 312.64l42 30.0M1228 315.16l42 30.0M1228 317.68l42 30.0M1228 320.20l42 30.0M1228 322.72l42 30.0M1228 325.24l42 30.0M1228 327.76l42 30.0M1228 330.28l42 30.0M1228 332.80l42 30.0M1228 335.32l42 30.0M1228 337.84l42 30.0M1228 340.36l42 30.0M1228 342.88l42 30.0M1228 345.40l42 30.0M1228 347.92l42 30.0M1228 350.44l42 30.0M1228 352.96l42 30.0M1228 355.48l42 30.0M1228 358.00l42 30.0M1228 360.52l42 30.0M1228 363.04l42 30.0M1228 365.56l42 30.0M1228 368.08l42 30.0M1228 370.60l42 30.0M1228 373.12l42 30.0M1228 375.64l42 30.0M1228 378.16l42 30.0M1228 380.68l42 30.0M1228 383.20l42 30.0M1228 385.72l42 30.0M1228 388.24l42 30.0M1228 390.76l42 30.0M1228 393.28l42 30.0M1228 395.80l42 30.0M1228 398.32l42 30.0M1228 400.84l42 30.0M1228 403.36l42 30.0M1228 405.88l42 30.0M1228 408.40l42 30.0M1228 410.92l42 30.0M1228 413.44l42 30.0M1228 415.96l42 30.0M1228 418.48l42 30.0M1228 421.00l42 30.0M1228 423.52l42 30.0M1228 426.04l42 30.0M1228 428.56l42 30.0"/>
</defs>
<g transform="matrix(1 0 -0.0163 1 15.746 -0.000)">
<rect x="368.50" y="517.90" width="43.10" height="5.40" fill="#fdfeff"/>
<rect x="368.50" y="523.30" width="43.10" height="63.10" fill="#fdfeff"/>
<rect x="368.50" y="586.40" width="43.10" height="379.60" fill="#fdfeff"/>
<rect x="411.40" y="251.00" width="87.80" height="8.40" fill="#fdfeff"/>
<rect x="411.40" y="259.40" width="87.80" height="150.00" fill="#fdfeff"/>
<rect x="411.40" y="409.40" width="87.80" height="7.00" fill="#fdfeff"/>
<rect x="411.40" y="416.40" width="87.80" height="16.70" fill="#fdfeff"/>
<rect x="411.40" y="433.10" width="87.80" height="514.20" fill="#fdfeff"/>
<rect x="510.20" y="445.40" width="22.40" height="89.20" fill="#fdfeff"/>
<rect x="510.20" y="534.60" width="22.40" height="39.40" fill="#fdfeff"/>
<rect x="510.20" y="574.00" width="22.40" height="104.50" fill="#fdfeff"/>
<rect x="510.20" y="678.50" width="22.40" height="268.40" fill="#fdfeff"/>
<rect x="499.20" y="696.20" width="10.70" height="40.70" fill="#fdfeff"/>
<rect x="499.20" y="736.90" width="10.70" height="218.80" fill="#fdfeff"/>
<rect x="533.20" y="705.90" width="21.80" height="56.40" fill="#fdfeff"/>
<rect x="533.20" y="762.30" width="21.80" height="10.40" fill="#fdfeff"/>
<rect x="533.20" y="772.70" width="21.80" height="37.70" fill="#fdfeff"/>
<rect x="533.20" y="810.40" width="21.80" height="155.60" fill="#fdfeff"/>
<rect x="555.00" y="912.20" width="10.60" height="1.40" fill="#fdfeff"/>
<rect x="555.00" y="913.60" width="10.60" height="4.90" fill="#fdfeff"/>
<rect x="555.00" y="918.50" width="10.60" height="44.50" fill="#fdfeff"/>
<rect x="565.60" y="754.30" width="10.70" height="167.00" fill="#fdfeff"/>
<rect x="565.60" y="921.30" width="10.70" height="28.30" fill="#fdfeff"/>
<rect x="565.60" y="949.60" width="10.70" height="2.40" fill="#fdfeff"/>
<rect x="565.60" y="952.00" width="10.70" height="8.30" fill="#fdfeff"/>
<rect x="576.30" y="931.00" width="11.30" height="1.40" fill="#fdfeff"/>
<rect x="576.30" y="932.40" width="11.30" height="33.60" fill="#fdfeff"/>
<rect x="587.90" y="888.50" width="9.80" height="77.50" fill="#fdfeff"/>
<rect x="597.70" y="603.30" width="22.10" height="10.10" fill="#fdfeff"/>
<rect x="597.70" y="613.40" width="22.10" height="177.60" fill="#fdfeff"/>
<rect x="597.70" y="791.00" width="22.10" height="175.00" fill="#fdfeff"/>
<rect x="619.80" y="353.60" width="21.80" height="71.10" fill="#fdfeff"/>
<rect x="619.80" y="424.70" width="21.80" height="44.80" fill="#fdfeff"/>
<rect x="619.80" y="469.50" width="21.80" height="496.50" fill="#fdfeff"/>
<rect x="641.60" y="794.40" width="11.00" height="146.00" fill="#fdfeff"/>
<rect x="641.60" y="940.40" width="11.00" height="25.60" fill="#fdfeff"/>
<rect x="652.60" y="854.40" width="11.10" height="111.60" fill="#fdfeff"/>
<rect x="663.70" y="759.60" width="11.50" height="188.20" fill="#fdfeff"/>
<rect x="663.70" y="947.80" width="11.50" height="18.20" fill="#fdfeff"/>
<rect x="675.20" y="658.50" width="11.00" height="295.90" fill="#fdfeff"/>
<rect x="675.20" y="954.40" width="11.00" height="5.60" fill="#fdfeff"/>
<rect x="686.20" y="923.20" width="10.60" height="38.50" fill="#fdfeff"/>
<rect x="686.20" y="961.70" width="10.60" height="4.30" fill="#fdfeff"/>
<rect x="696.80" y="885.50" width="11.50" height="75.10" fill="#fdfeff"/>
<rect x="696.80" y="960.60" width="11.50" height="5.40" fill="#fdfeff"/>
<rect x="708.30" y="617.40" width="44.20" height="232.10" fill="#fdfeff"/>
<rect x="708.30" y="849.50" width="44.20" height="95.00" fill="#fdfeff"/>
<rect x="752.50" y="534.60" width="43.50" height="2.70" fill="#fdfeff"/>
<rect x="752.50" y="537.30" width="43.50" height="24.40" fill="#fdfeff"/>
<rect x="752.50" y="561.70" width="43.50" height="391.30" fill="#fdfeff"/>
<rect x="796.00" y="584.00" width="44.20" height="26.80" fill="#fdfeff"/>
<rect x="796.00" y="610.80" width="44.20" height="123.80" fill="#fdfeff"/>
<rect x="796.00" y="734.60" width="44.20" height="231.40" fill="#fdfeff"/>
<rect x="840.20" y="511.60" width="44.10" height="49.10" fill="#fdfeff"/>
<rect x="840.20" y="560.70" width="44.10" height="156.90" fill="#fdfeff"/>
<rect x="840.20" y="717.60" width="44.10" height="248.40" fill="#fdfeff"/>
<rect x="884.30" y="811.60" width="21.00" height="19.40" fill="#fdfeff"/>
<rect x="884.30" y="831.00" width="21.00" height="90.20" fill="#fdfeff"/>
<rect x="884.30" y="921.20" width="21.00" height="44.80" fill="#fdfeff"/>
<rect x="905.30" y="838.20" width="10.70" height="9.30" fill="#fdfeff"/>
<rect x="905.30" y="847.50" width="10.70" height="118.50" fill="#fdfeff"/>
<rect x="916.00" y="517.90" width="89.20" height="8.40" fill="#fdfeff"/>
<rect x="916.00" y="526.30" width="89.20" height="93.70" fill="#fdfeff"/>
<rect x="916.00" y="620.00" width="89.20" height="344.00" fill="#fdfeff"/>
<clipPath id="cp1"><rect x="368.50" y="517.90" width="43.10" height="5.40"/><rect x="411.40" y="409.40" width="87.80" height="7.00"/><rect x="510.20" y="534.60" width="22.40" height="39.40"/><rect x="533.20" y="762.30" width="21.80" height="10.40"/><rect x="555.00" y="912.20" width="10.60" height="1.40"/><rect x="565.60" y="921.30" width="10.70" height="28.30"/><rect x="576.30" y="931.00" width="11.30" height="1.40"/><rect x="597.70" y="603.30" width="22.10" height="10.10"/><rect x="619.80" y="353.60" width="21.80" height="71.10"/><rect x="752.50" y="534.60" width="43.50" height="2.70"/><rect x="796.00" y="584.00" width="44.20" height="26.80"/><rect x="840.20" y="511.60" width="44.10" height="49.10"/><rect x="884.30" y="811.60" width="21.00" height="19.40"/><rect x="905.30" y="838.20" width="10.70" height="9.30"/><rect x="916.00" y="517.90" width="89.20" height="8.40"/></clipPath>
<g clip-path="url(#cp1)" fill="none">
<use href="#hg" stroke="#333" stroke-width="0.9"/>
</g>
<clipPath id="cp2"><rect x="368.50" y="523.30" width="43.10" height="63.10"/><rect x="411.40" y="416.40" width="87.80" height="16.70"/><rect x="510.20" y="574.00" width="22.40" height="104.50"/><rect x="533.20" y="772.70" width="21.80" height="37.70"/><rect x="597.70" y="613.40" width="22.10" height="177.60"/><rect x="619.80" y="424.70" width="21.80" height="44.80"/><rect x="752.50" y="537.30" width="43.50" height="24.40"/><rect x="796.00" y="610.80" width="44.20" height="123.80"/><rect x="840.20" y="560.70" width="44.10" height="156.90"/><rect x="884.30" y="831.00" width="21.00" height="90.20"/><rect x="916.00" y="526.30" width="89.20" height="93.70"/></clipPath>
<g clip-path="url(#cp2)" fill="none">
<use href="#hr1" stroke="#ee5a68" stroke-width="0.72"/>
</g>
<clipPath id="cp3"><rect x="368.50" y="586.40" width="43.10" height="379.60"/><rect x="411.40" y="433.10" width="87.80" height="514.20"/><rect x="510.20" y="678.50" width="22.40" height="268.40"/><rect x="533.20" y="810.40" width="21.80" height="155.60"/><rect x="555.00" y="918.50" width="10.60" height="44.50"/><rect x="565.60" y="952.00" width="10.70" height="8.30"/><rect x="587.90" y="888.50" width="9.80" height="77.50"/><rect x="597.70" y="791.00" width="22.10" height="175.00"/><rect x="619.80" y="469.50" width="21.80" height="496.50"/><rect x="641.60" y="940.40" width="11.00" height="25.60"/><rect x="663.70" y="947.80" width="11.50" height="18.20"/><rect x="696.80" y="960.60" width="11.50" height="5.40"/><rect x="708.30" y="849.50" width="44.20" height="95.00"/><rect x="752.50" y="561.70" width="43.50" height="391.30"/><rect x="796.00" y="734.60" width="44.20" height="231.40"/><rect x="840.20" y="717.60" width="44.10" height="248.40"/><rect x="884.30" y="921.20" width="21.00" height="44.80"/><rect x="905.30" y="847.50" width="10.70" height="118.50"/><rect x="916.00" y="620.00" width="89.20" height="344.00"/></clipPath>
<g clip-path="url(#cp3)" fill="none">
<use href="#hb1" stroke="#4592da" stroke-width="0.9" stroke-opacity="0.84"/>
</g>
<clipPath id="cp4"><rect x="411.40" y="251.00" width="87.80" height="8.40"/><rect x="555.00" y="913.60" width="10.60" height="4.90"/><rect x="565.60" y="949.60" width="10.70" height="2.40"/><rect x="675.20" y="954.40" width="11.00" height="5.60"/></clipPath>
<g clip-path="url(#cp4)" fill="none">
<use href="#hr1" stroke="#e63a42" stroke-width="1.05" stroke-opacity="0.95"/>
</g>
<clipPath id="cp5"><rect x="411.40" y="259.40" width="87.80" height="150.00"/><rect x="510.20" y="445.40" width="22.40" height="89.20"/><rect x="499.20" y="736.90" width="10.70" height="218.80"/><rect x="533.20" y="705.90" width="21.80" height="56.40"/><rect x="565.60" y="754.30" width="10.70" height="167.00"/><rect x="576.30" y="932.40" width="11.30" height="33.60"/><rect x="641.60" y="794.40" width="11.00" height="146.00"/><rect x="652.60" y="854.40" width="11.10" height="111.60"/><rect x="675.20" y="658.50" width="11.00" height="295.90"/><rect x="686.20" y="923.20" width="10.60" height="38.50"/><rect x="696.80" y="885.50" width="11.50" height="75.10"/><rect x="708.30" y="617.40" width="44.20" height="232.10"/></clipPath>
<g clip-path="url(#cp5)" fill="none">
<use href="#hb1" stroke="#4592da" stroke-width="0.96" stroke-opacity="0.8"/>
<use href="#hb2" stroke="#4592da" stroke-width="0.96" stroke-opacity="0.8"/>
</g>
<clipPath id="cp6"><rect x="499.20" y="696.20" width="10.70" height="40.70"/></clipPath>
<g clip-path="url(#cp6)" fill="none">
<use href="#hr1" stroke="#e42a32" stroke-width="1.3" stroke-opacity="0.92"/>
<use href="#hr2" stroke="#e42a32" stroke-width="1.3" stroke-opacity="0.92"/>
</g>
<clipPath id="cp7"><rect x="663.70" y="759.60" width="11.50" height="188.20"/></clipPath>
<g clip-path="url(#cp7)" fill="none">
<use href="#hr1" stroke="#e8303a" stroke-width="0.8" stroke-opacity="0.95"/>
<use href="#hr2" stroke="#e8303a" stroke-width="0.8" stroke-opacity="0.95"/>
</g>
<g stroke="#505050" stroke-width="1" fill="none" shape-rendering="crispEdges">
<path d="M323.2 259.00L1047.8 260.20"/>
<path d="M323.2 293.20L1047.8 295.60"/>
<path d="M323.2 329.60L1047.8 330.80"/>
<path d="M323.2 365.80L1047.8 365.60"/>
<path d="M323.2 400.60L1047.8 401.00"/>
<path d="M323.2 436.40L1047.8 436.50"/>
<path d="M323.2 472.20L1047.8 472.00"/>
<path d="M323.2 507.00L1047.8 507.40"/>
<path d="M323.2 541.90L1047.8 542.80"/>
<path d="M323.2 576.40L1047.8 578.30"/>
<path d="M323.2 613.70L1047.8 614.00"/>
<path d="M323.2 648.80L1047.8 649.50"/>
<path d="M323.2 682.50L1047.8 684.60"/>
<path d="M323.2 718.60L1047.8 720.40"/>
<path d="M323.2 754.30L1047.8 754.90"/>
<path d="M323.2 789.70L1047.8 790.00"/>
<path d="M323.2 824.80L1047.8 825.50"/>
<path d="M323.2 860.90L1047.8 861.90"/>
<path d="M323.2 895.60L1047.8 896.70"/>
<path d="M323.2 930.70L1047.8 931.20"/>
<path d="M323.2 966.00L1047.8 966.00"/>
</g>
<g stroke="#6a6a6a" stroke-width="1" fill="none" shape-rendering="crispEdges">
<rect x="368.50" y="517.90" width="43.10" height="448.10"/>
<path d="M368.50 523.30H411.60M368.50 586.40H411.60"/>
<rect x="411.40" y="251.00" width="87.80" height="715.00"/>
<path d="M411.40 259.40H499.20M411.40 409.40H499.20M411.40 416.40H499.20M411.40 433.10H499.20M411.40 947.30H499.20"/>
<rect x="510.20" y="445.40" width="22.40" height="520.60"/>
<path d="M510.20 534.60H532.60M510.20 574.00H532.60M510.20 678.50H532.60M510.20 946.90H532.60"/>
<rect x="499.20" y="696.20" width="10.70" height="259.50"/>
<path d="M499.20 736.90H509.90"/>
<rect x="533.20" y="705.90" width="21.80" height="260.10"/>
<path d="M533.20 762.30H555.00M533.20 772.70H555.00M533.20 810.40H555.00"/>
<rect x="555.00" y="912.20" width="10.60" height="53.80"/>
<path d="M555.00 913.60H565.60M555.00 918.50H565.60M555.00 963.00H565.60"/>
<rect x="565.60" y="754.30" width="10.70" height="211.70"/>
<path d="M565.60 921.30H576.30M565.60 949.60H576.30M565.60 952.00H576.30M565.60 960.30H576.30"/>
<rect x="576.30" y="931.00" width="11.30" height="35.00"/>
<path d="M576.30 932.40H587.60"/>
<rect x="587.90" y="888.50" width="9.80" height="77.50"/>
<rect x="597.70" y="603.30" width="22.10" height="362.70"/>
<path d="M597.70 613.40H619.80M597.70 791.00H619.80"/>
<rect x="619.80" y="353.60" width="21.80" height="612.40"/>
<path d="M619.80 424.70H641.60M619.80 469.50H641.60"/>
<rect x="641.60" y="794.40" width="11.00" height="171.60"/>
<path d="M641.60 940.40H652.60"/>
<rect x="652.60" y="854.40" width="11.10" height="111.60"/>
<rect x="663.70" y="759.60" width="11.50" height="206.40"/>
<path d="M663.70 947.80H675.20"/>
<rect x="675.20" y="658.50" width="11.00" height="307.50"/>
<path d="M675.20 954.40H686.20M675.20 960.00H686.20"/>
<rect x="686.20" y="923.20" width="10.60" height="42.80"/>
<path d="M686.20 961.70H696.80"/>
<rect x="696.80" y="885.50" width="11.50" height="80.50"/>
<path d="M696.80 960.60H708.30"/>
<rect x="708.30" y="617.40" width="44.20" height="348.60"/>
<path d="M708.30 849.50H752.50M708.30 944.50H752.50"/>
<rect x="752.50" y="534.60" width="43.50" height="431.40"/>
<path d="M752.50 537.30H796.00M752.50 561.70H796.00M752.50 953.00H796.00"/>
<rect x="796.00" y="584.00" width="44.20" height="382.00"/>
<path d="M796.00 610.80H840.20M796.00 734.60H840.20"/>
<rect x="840.20" y="511.60" width="44.10" height="454.40"/>
<path d="M840.20 560.70H884.30M840.20 717.60H884.30"/>
<rect x="884.30" y="811.60" width="21.00" height="154.40"/>
<path d="M884.30 831.00H905.30M884.30 921.20H905.30"/>
<rect x="905.30" y="838.20" width="10.70" height="127.80"/>
<path d="M905.30 847.50H916.00"/>
<rect x="916.00" y="517.90" width="89.20" height="448.10"/>
<path d="M916.00 526.30H1005.20M916.00 620.00H1005.20M916.00 964.00H1005.20"/>
</g>
<rect x="498.80" y="955.70" width="11.80" height="10.80" fill="#1b1b1d"/>
<rect x="411.00" y="947.30" width="88.60" height="19.20" fill="#1b1b1d"/>
<rect x="509.80" y="946.90" width="23.20" height="19.60" fill="#1b1b1d"/>
<rect x="554.60" y="963.00" width="11.40" height="3.50" fill="#1b1b1d"/>
<rect x="565.20" y="960.30" width="11.50" height="6.20" fill="#1b1b1d"/>
<rect x="674.80" y="960.00" width="11.80" height="6.50" fill="#1b1b1d"/>
<rect x="707.90" y="944.50" width="45.00" height="22.00" fill="#1b1b1d"/>
<rect x="752.10" y="953.00" width="44.30" height="13.50" fill="#1b1b1d"/>
<rect x="915.60" y="964.00" width="90.00" height="2.50" fill="#1b1b1d"/>
<path d="M686 961.7H696.8M689.6 961.7V966M693.2 961.7V966M686 963.8H696.8" stroke="#3a3a3a" stroke-width="0.6" fill="none"/>
<g stroke="#4c4c4c" stroke-width="0.75" fill="none">
<path d="M323.2 259.0V966.0M333.4 259.0V966.0M1035.8 259.0V966.0M1047.8 259.0V966.0"/>
<path d="M323.2 966.0H1047.8" stroke-width="1"/>
</g>
</g>
<text x="309.6" y="261.2" font-size="6.60" class="b it" textLength="19.0" lengthAdjust="spacingAndGlyphs">2000</text>
<text x="311.2" y="295.4" font-size="6.60" class="b it" textLength="18.3" lengthAdjust="spacingAndGlyphs">1900</text>
<text x="313.4" y="331.8" font-size="6.60" class="b it" textLength="17.7" lengthAdjust="spacingAndGlyphs">1800</text>
<text x="311.8" y="368.0" font-size="6.60" class="b it" textLength="18.4" lengthAdjust="spacingAndGlyphs">1700</text>
<text x="313.4" y="402.8" font-size="6.60" class="b it" textLength="17.7" lengthAdjust="spacingAndGlyphs">1600</text>
<text x="309.6" y="438.6" font-size="6.60" class="b it" textLength="18.0" lengthAdjust="spacingAndGlyphs">1500</text>
<text x="309.6" y="474.4" font-size="6.60" class="b it" textLength="18.0" lengthAdjust="spacingAndGlyphs">1400</text>
<text x="309.6" y="509.2" font-size="6.60" class="b it" textLength="19.6" lengthAdjust="spacingAndGlyphs">1300</text>
<text x="307.4" y="544.1" font-size="6.60" class="b it" textLength="16.4" lengthAdjust="spacingAndGlyphs">1200</text>
<text x="307.4" y="578.6" font-size="6.60" class="b it" textLength="19.0" lengthAdjust="spacingAndGlyphs">1100</text>
<text x="309.4" y="615.9" font-size="6.60" class="b it" textLength="17.4" lengthAdjust="spacingAndGlyphs">1000</text>
<text x="311.8" y="651.0" font-size="6.60" class="b it" textLength="13.3" lengthAdjust="spacingAndGlyphs">900</text>
<text x="309.4" y="684.7" font-size="6.60" class="b it" textLength="14.1" lengthAdjust="spacingAndGlyphs">800</text>
<text x="310.8" y="720.8" font-size="6.60" class="b it" textLength="12.7" lengthAdjust="spacingAndGlyphs">700</text>
<text x="308.4" y="756.5" font-size="6.60" class="b it" textLength="15.1" lengthAdjust="spacingAndGlyphs">600</text>
<text x="309.4" y="791.9" font-size="6.60" class="b it" textLength="14.1" lengthAdjust="spacingAndGlyphs">500</text>
<text x="309.4" y="827.0" font-size="6.60" class="b it" textLength="14.7" lengthAdjust="spacingAndGlyphs">400</text>
<text x="309.4" y="863.1" font-size="6.60" class="b it" textLength="13.4" lengthAdjust="spacingAndGlyphs">300</text>
<text x="310.1" y="897.8" font-size="6.60" class="b it" textLength="13.4" lengthAdjust="spacingAndGlyphs">200</text>
<text x="306.8" y="932.9" font-size="6.60" class="b it" textLength="15.0" lengthAdjust="spacingAndGlyphs">100</text>
<text x="1065.8" y="263.2" font-size="6.60" class="b it" textLength="21.7" lengthAdjust="spacingAndGlyphs">2000</text>
<text x="1065.8" y="300.7" font-size="6.60" class="b it" textLength="20.1" lengthAdjust="spacingAndGlyphs">1900</text>
<text x="1065.1" y="333.4" font-size="6.60" class="b it" textLength="18.4" lengthAdjust="spacingAndGlyphs">1800</text>
<text x="1064.1" y="368.5" font-size="6.60" class="b it" textLength="19.4" lengthAdjust="spacingAndGlyphs">1700</text>
<text x="1063.5" y="404.9" font-size="6.60" class="b it" textLength="20.0" lengthAdjust="spacingAndGlyphs">1600</text>
<text x="1061.8" y="440.3" font-size="6.60" class="b it" textLength="18.4" lengthAdjust="spacingAndGlyphs">1500</text>
<text x="1060.8" y="476.0" font-size="6.60" class="b it" textLength="19.4" lengthAdjust="spacingAndGlyphs">1400</text>
<text x="1059.8" y="511.1" font-size="6.60" class="b it" textLength="19.4" lengthAdjust="spacingAndGlyphs">1300</text>
<text x="1059.8" y="546.2" font-size="6.60" class="b it" textLength="19.4" lengthAdjust="spacingAndGlyphs">1200</text>
<text x="1059.1" y="582.9" font-size="6.60" class="b it" textLength="18.4" lengthAdjust="spacingAndGlyphs">1100</text>
<text x="1059.1" y="618.0" font-size="6.60" class="b it" textLength="20.1" lengthAdjust="spacingAndGlyphs">1000</text>
<text x="1060.8" y="651.6" font-size="6.60" class="b it" textLength="16.7" lengthAdjust="spacingAndGlyphs">900</text>
<text x="1059.8" y="688.0" font-size="6.60" class="b it" textLength="15.4" lengthAdjust="spacingAndGlyphs">800</text>
<text x="1059.1" y="723.4" font-size="6.60" class="b it" textLength="16.1" lengthAdjust="spacingAndGlyphs">700</text>
<text x="1056.5" y="757.5" font-size="6.60" class="b it" textLength="16.7" lengthAdjust="spacingAndGlyphs">600</text>
<text x="1055.8" y="792.6" font-size="6.60" class="b it" textLength="15.0" lengthAdjust="spacingAndGlyphs">500</text>
<text x="1055.8" y="828.7" font-size="6.60" class="b it" textLength="15.7" lengthAdjust="spacingAndGlyphs">400</text>
<text x="1055.1" y="865.1" font-size="6.60" class="b it" textLength="15.0" lengthAdjust="spacingAndGlyphs">300</text>
<text x="1055.8" y="899.5" font-size="6.60" class="b it" textLength="16.7" lengthAdjust="spacingAndGlyphs">200</text>
<text x="1055.8" y="932.9" font-size="6.60" class="b it" textLength="13.3" lengthAdjust="spacingAndGlyphs">100</text>
<text x="299.8" y="727.0" font-size="21.00" class="it" textLength="69.0" lengthAdjust="spacingAndGlyphs" transform="rotate(-90 299.8 727.0)">Скала</text>
<text x="299.8" y="644.0" font-size="21.00" class="it" textLength="113.5" lengthAdjust="spacingAndGlyphs" transform="rotate(-90 299.8 644.0)">площадей</text>
<path d="M303.2 531V645" stroke="#1c1c1c" stroke-width="1.1"/>
<text x="1082.3" y="433.5" font-size="21.00" class="it" textLength="68.0" lengthAdjust="spacingAndGlyphs" transform="rotate(90 1082.3 433.5)">Скала</text>
<text x="1082.3" y="519.5" font-size="21.00" class="it" textLength="109.0" lengthAdjust="spacingAndGlyphs" transform="rotate(90 1082.3 519.5)">площадей</text>
<path d="M1081.2 524.5V622.5" stroke="#1c1c1c" stroke-width="1.1"/>
<text x="0" y="0" font-size="11.5" class="it b" text-anchor="middle" transform="translate(344.2 880.0) rotate(-90) translate(0 2.5)">ы</text>
<text x="0" y="0" font-size="11.5" class="it b" text-anchor="middle" transform="translate(344.6 842.8) rotate(-90) translate(0 2.5)">с</text>
<text x="0" y="0" font-size="11.5" class="it b" text-anchor="middle" transform="translate(345.2 807.0) rotate(-90) translate(0 2.5)">я</text>
<text x="0" y="0" font-size="11.5" class="it b" text-anchor="middle" transform="translate(345.8 772.7) rotate(-90) translate(0 2.5)">ч</text>
<text x="0" y="0" font-size="11.5" class="it b" text-anchor="middle" transform="translate(346.4 736.3) rotate(-90) translate(0 2.5)">ъ</text>
<text x="0" y="0" font-size="11.5" class="it b" text-anchor="middle" transform="translate(347.4 665.1) rotate(-90) translate(0 2.5)">п</text>
<text x="0" y="0" font-size="11.5" class="it b" text-anchor="middle" transform="translate(348.0 631.7) rotate(-90) translate(0 2.5)">у</text>
<text x="0" y="0" font-size="11.5" class="it b" text-anchor="middle" transform="translate(348.6 596.4) rotate(-90) translate(0 2.5)">д</text>
<text x="0" y="0" font-size="11.5" class="it b" text-anchor="middle" transform="translate(349.2 560.0) rotate(-90) translate(0 2.5)">о</text>
<text x="0" y="0" font-size="11.5" class="it b" text-anchor="middle" transform="translate(349.8 526.6) rotate(-90) translate(0 2.5)">в</text>
<text x="0" y="0" font-size="11.5" class="it b" text-anchor="middle" transform="translate(350.4 488.9) rotate(-90) translate(0 2.5)">ъ</text>
<text x="0" y="0" font-size="11.5" class="it b" text-anchor="middle" transform="translate(1035.5 523.8) rotate(90) translate(0 2.5)">ы</text>
<text x="0" y="0" font-size="11.5" class="it b" text-anchor="middle" transform="translate(1034.9 560.7) rotate(90) translate(0 2.5)">с</text>
<text x="0" y="0" font-size="11.5" class="it b" text-anchor="middle" transform="translate(1034.3 595.7) rotate(90) translate(0 2.5)">я</text>
<text x="0" y="0" font-size="11.5" class="it b" text-anchor="middle" transform="translate(1033.7 631.9) rotate(90) translate(0 2.5)">ч</text>
<text x="0" y="0" font-size="11.5" class="it b" text-anchor="middle" transform="translate(1033.1 666.7) rotate(90) translate(0 2.5)">ъ</text>
<text x="0" y="0" font-size="11.5" class="it b" text-anchor="middle" transform="translate(1032.0 735.0) rotate(90) translate(0 2.5)">п</text>
<text x="0" y="0" font-size="11.5" class="it b" text-anchor="middle" transform="translate(1031.4 770.8) rotate(90) translate(0 2.5)">у</text>
<text x="0" y="0" font-size="11.5" class="it b" text-anchor="middle" transform="translate(1030.8 805.6) rotate(90) translate(0 2.5)">д</text>
<text x="0" y="0" font-size="11.5" class="it b" text-anchor="middle" transform="translate(1030.2 843.0) rotate(90) translate(0 2.5)">о</text>
<text x="0" y="0" font-size="11.5" class="it b" text-anchor="middle" transform="translate(1029.6 878.8) rotate(90) translate(0 2.5)">в</text>
<text x="0" y="0" font-size="11.5" class="it b" text-anchor="middle" transform="translate(1029.2 905.8) rotate(90) translate(0 2.5)">ъ</text>
<g fill="none" stroke="#1c1c1c" stroke-linecap="round"><path d="M337.9 907.6V921.6" stroke-width="1.7"/><path d="M338 909.4H344.6q1.4 0 1.6 -1.6M338 914.6H345.4M338 919.6H344.4q1.6 0 1.8 1.4" stroke-width="1.15"/><path d="M1042.8 481V495.6" stroke-width="1.7"/><path d="M1042.7 493.6H1036.2q-1.4 0 -1.6 1.6M1042.7 488.3H1035.4M1042.7 483H1036.4q-1.6 0 -1.8 -1.4" stroke-width="1.15"/></g>
<text x="389.0" y="1052.5" font-size="13.00" class="it" textLength="68.0" lengthAdjust="spacingAndGlyphs" transform="rotate(-90 389.0 1052.5)" stroke="#1c1c1c" stroke-width="0.3">Пшеница</text>
<text x="455.8" y="1071.4" font-size="13.00" class="it" textLength="82.0" lengthAdjust="spacingAndGlyphs" transform="rotate(-90 455.8 1071.4)" stroke="#1c1c1c" stroke-width="0.3">Мука разная</text>
<text x="506.5" y="1041.7" font-size="13.00" class="it" textLength="47.0" lengthAdjust="spacingAndGlyphs" transform="rotate(-90 506.5 1041.7)" stroke="#1c1c1c" stroke-width="0.3">Сухари</text>
<text x="521.0" y="1084.8" font-size="13.00" class="it" textLength="106.0" lengthAdjust="spacingAndGlyphs" transform="rotate(-90 521.0 1084.8)" stroke="#1c1c1c" stroke-width="0.3">Крупа и гречиха</text>
<text x="544.3" y="1020.4" font-size="13.00" class="it" textLength="27.0" lengthAdjust="spacingAndGlyphs" transform="rotate(-90 544.3 1020.4)" stroke="#1c1c1c" stroke-width="0.3">Соль</text>
<text x="558.8" y="1019.4" font-size="13.00" class="it" textLength="26.0" lengthAdjust="spacingAndGlyphs" transform="rotate(-90 558.8 1019.4)" stroke="#1c1c1c" stroke-width="0.3">Чай</text>
<text x="572.8" y="1018.5" font-size="13.00" class="it" textLength="44.0" lengthAdjust="spacingAndGlyphs" transform="rotate(-90 572.8 1018.5)" stroke="#1c1c1c" stroke-width="0.3">Сахаръ</text>
<text x="584.5" y="1076.0" font-size="13.00" class="it" textLength="112.0" lengthAdjust="spacingAndGlyphs" transform="rotate(-90 584.5 1076.0)" stroke="#1c1c1c" stroke-width="0.3">Суш. овощи и перецъ</text>
<text x="595.5" y="1093.7" font-size="13.00" class="it" textLength="128.0" lengthAdjust="spacingAndGlyphs" transform="rotate(-90 595.5 1093.7)" stroke="#1c1c1c" stroke-width="0.3">Кваш. кап. и св. овощи</text>
<text x="608.2" y="1020.4" font-size="13.00" class="it" textLength="32.0" lengthAdjust="spacingAndGlyphs" transform="rotate(-90 608.2 1020.4)" stroke="#1c1c1c" stroke-width="0.3">Бобы</text>
<text x="627.5" y="1069.6" font-size="13.00" class="it" textLength="80.0" lengthAdjust="spacingAndGlyphs" transform="rotate(-90 627.5 1069.6)" stroke="#1c1c1c" stroke-width="0.3">Порц. скотъ</text>
<text x="637.6" y="1041.7" font-size="10.50" class="it" textLength="72.0" lengthAdjust="spacingAndGlyphs" transform="rotate(-90 637.6 1041.7)" stroke="#1c1c1c" stroke-width="0.3">живымъ вѣс.</text>
<text x="650.0" y="1062.1" font-size="13.00" class="it" textLength="59.0" lengthAdjust="spacingAndGlyphs" transform="rotate(-90 650.0 1062.1)" stroke="#1c1c1c" stroke-width="0.3">Мор. мясо</text>
<text x="660.8" y="1038.9" font-size="13.00" class="it" textLength="60.0" lengthAdjust="spacingAndGlyphs" transform="rotate(-90 660.8 1038.9)" stroke="#1c1c1c" stroke-width="0.3">Солонина</text>
<text x="670.5" y="1053.8" font-size="13.00" class="it" textLength="58.0" lengthAdjust="spacingAndGlyphs" transform="rotate(-90 670.5 1053.8)" stroke="#1c1c1c" stroke-width="0.3">Сол. рыба</text>
<text x="684.3" y="1036.1" font-size="13.00" class="it" textLength="55.0" lengthAdjust="spacingAndGlyphs" transform="rotate(-90 684.3 1036.1)" stroke="#1c1c1c" stroke-width="0.3">Консервы</text>
<text x="693.8" y="1065.8" font-size="13.00" class="it" textLength="86.0" lengthAdjust="spacingAndGlyphs" transform="rotate(-90 693.8 1065.8)" stroke="#1c1c1c" stroke-width="0.3">Масло и сало</text>
<text x="704.6" y="1034.3" font-size="13.00" class="it" textLength="49.0" lengthAdjust="spacingAndGlyphs" transform="rotate(-90 704.6 1034.3)" stroke="#1c1c1c" stroke-width="0.3">Спиртъ</text>
<text x="725.6" y="1038.0" font-size="13.00" class="it" textLength="35.0" lengthAdjust="spacingAndGlyphs" transform="rotate(-90 725.6 1038.0)" stroke="#1c1c1c" stroke-width="0.3">Овесъ</text>
<text x="770.4" y="1040.8" font-size="13.00" class="it" textLength="47.0" lengthAdjust="spacingAndGlyphs" transform="rotate(-90 770.4 1040.8)" stroke="#1c1c1c" stroke-width="0.3">Ячмень</text>
<text x="817.0" y="1088.1" font-size="13.00" class="it" textLength="94.0" lengthAdjust="spacingAndGlyphs" transform="rotate(-90 817.0 1088.1)" stroke="#1c1c1c" stroke-width="0.3">Гаолянъ (зерно)</text>
<text x="865.6" y="1081.6" font-size="13.00" class="it" textLength="114.0" lengthAdjust="spacingAndGlyphs" transform="rotate(-90 865.6 1081.6)" stroke="#1c1c1c" stroke-width="0.3">Бобовые жмыхи</text>
<text x="895.8" y="1033.4" font-size="13.00" class="it" textLength="45.0" lengthAdjust="spacingAndGlyphs" transform="rotate(-90 895.8 1033.4)" stroke="#1c1c1c" stroke-width="0.3">Чумиза</text>
<text x="914.6" y="1032.4" font-size="13.00" class="it" textLength="59.0" lengthAdjust="spacingAndGlyphs" transform="rotate(-90 914.6 1032.4)" stroke="#1c1c1c" stroke-width="0.3">Кукуруза</text>
<text x="957.3" y="1077.0" font-size="13.00" class="it" textLength="93.0" lengthAdjust="spacingAndGlyphs" transform="rotate(-90 957.3 1077.0)" stroke="#1c1c1c" stroke-width="0.3">Сѣно и солома</text>
<text x="238.3" y="91.6" font-size="23.50" class="sans" textLength="65.8" lengthAdjust="spacingAndGlyphs" stroke="#1c1c1c" stroke-width="0.35">Къ тому</text>
<text x="308.0" y="91.6" font-size="26.50" textLength="26.0" lengthAdjust="spacingAndGlyphs" stroke="#1c1c1c" stroke-width="0.55">VII</text>
<text x="338.0" y="91.6" font-size="23.50" class="sans" textLength="52.6" lengthAdjust="spacingAndGlyphs" stroke="#1c1c1c" stroke-width="0.35">,части</text>
<text x="396.9" y="91.6" font-size="23.50" class="sans">I</text>
<text x="406.6" y="79.2" font-size="11.50" class="sans b" textLength="4.6" lengthAdjust="spacingAndGlyphs">й</text>
<path d="M407.2 84.6H410.4M408.2 90.6H409.6" stroke="#1c1c1c" stroke-width="1.2"/>
<text x="1295.7" y="92.4" font-size="24.50" class="sans" textLength="154.3" lengthAdjust="spacingAndGlyphs" stroke="#1c1c1c" stroke-width="0.35">Картографическое</text>
<text x="1459.9" y="92.4" font-size="24.50" class="sans" textLength="99.3" lengthAdjust="spacingAndGlyphs" stroke="#1c1c1c" stroke-width="0.35">приложеніе</text>
<text x="1570.0" y="92.4" font-size="24.50" class="sans" textLength="17.7" lengthAdjust="spacingAndGlyphs" stroke="#1c1c1c" stroke-width="0.35">№</text>
<text x="1593.6" y="92.4" font-size="24.50" class="sans">II</text>
<text x="1609.6" y="92.4" font-size="24.50" class="sans" stroke="#1c1c1c" stroke-width="0.35">.</text>
<text class="sans b" font-size="23.5" transform="translate(632.6 150) scale(0.46 1)" textLength="280.7" lengthAdjust="spacing" stroke="#1c1c1c" stroke-width="0.8">ДІАГРАММА</text>
<text x="589.3" y="193.3" font-size="17.50" class="b" textLength="215.6" lengthAdjust="spacingAndGlyphs" stroke="#1c1c1c" stroke-width="0.5">КЪ ПРИЛОЖЕНІЮ № 21</text>
<text x="492.0" y="220.5" font-size="15.50" class="it" textLength="409.0" lengthAdjust="spacingAndGlyphs">(Вѣдомость запасамъ, заготовленнымъ интендантствомъ).</text>
<text x="1329.2" y="312.9" font-size="16.5" class="it" textLength="146" lengthAdjust="spacing">Условныя цвѣта:</text>
<text x="1277.2" y="342.0" font-size="12.60" class="it" textLength="230.1" lengthAdjust="spacingAndGlyphs">Состояло въ магазинахъ къ началу кампаніи.</text>
<rect x="1235.30" y="350.70" width="29.50" height="8.80" fill="#fdfeff"/>
<rect x="1235.3" y="350.7" width="29.5" height="8.8" fill="none" stroke="#3a3a3a" stroke-width="0.7"/>
<text x="1277.2" y="358.4" font-size="12.60" class="it" textLength="210.4" lengthAdjust="spacingAndGlyphs">Заготовлено тыловымъ интендантствомъ.</text>
<rect x="1235.30" y="366.90" width="28.70" height="9.00" fill="#fdfeff"/>
<rect x="1235.3" y="366.9" width="28.7" height="9.0" fill="none" stroke="#3a3a3a" stroke-width="0.7"/>
<text x="1277.2" y="374.8" font-size="12.60" class="it" textLength="314.2" lengthAdjust="spacingAndGlyphs">Заготовлено инт. Манчжур. арміи и Гл. Пол. интендантомъ.</text>
<rect x="1235.50" y="384.40" width="28.30" height="8.30" fill="#fdfeff"/>
<rect x="1235.5" y="384.4" width="28.3" height="8.3" fill="none" stroke="#3a3a3a" stroke-width="0.7"/>
<text x="1277.2" y="391.6" font-size="12.60" class="it" textLength="207.1" lengthAdjust="spacingAndGlyphs">Заготовлено интендантами трехъ армій.</text>
<rect x="1235.00" y="402.10" width="28.60" height="8.70" fill="#fdfeff"/>
<rect x="1235.0" y="402.1" width="28.6" height="8.7" fill="none" stroke="#3a3a3a" stroke-width="0.7"/>
<text x="1277.2" y="408.0" font-size="12.60" class="it" textLength="256.9" lengthAdjust="spacingAndGlyphs">Подвезено по желѣзной дорогѣ съ запада изъ Россіи.</text>
<rect x="1233.50" y="418.50" width="29.10" height="8.50" fill="#fdfeff"/>
<rect x="1233.5" y="418.5" width="29.1" height="8.5" fill="none" stroke="#3a3a3a" stroke-width="0.7"/>
<text x="1277.2" y="424.4" font-size="12.60" class="it" textLength="186.4" lengthAdjust="spacingAndGlyphs">Подвезено съ востока изъ Пріамурья.</text>
<clipPath id="cp8"><rect x="1235.30" y="350.70" width="29.50" height="8.80"/></clipPath>
<g clip-path="url(#cp8)" fill="none">
<use href="#lb1" stroke="#4592da" stroke-width="0.9" stroke-opacity="0.84"/>
</g>
<clipPath id="cp9"><rect x="1235.30" y="366.90" width="28.70" height="9.00"/></clipPath>
<g clip-path="url(#cp9)" fill="none">
<use href="#lr1" stroke="#ee5a68" stroke-width="0.72"/>
</g>
<clipPath id="cp10"><rect x="1235.50" y="384.40" width="28.30" height="8.30"/></clipPath>
<g clip-path="url(#cp10)" fill="none">
<use href="#lg" stroke="#333" stroke-width="0.8"/>
</g>
<clipPath id="cp11"><rect x="1235.00" y="402.10" width="28.60" height="8.70"/></clipPath>
<g clip-path="url(#cp11)" fill="none">
<use href="#lb1" stroke="#4592da" stroke-width="0.96" stroke-opacity="0.8"/>
<use href="#lb2" stroke="#4592da" stroke-width="0.96" stroke-opacity="0.8"/>
</g>
<clipPath id="cp12"><rect x="1233.50" y="418.50" width="29.10" height="8.50"/></clipPath>
<g clip-path="url(#cp12)" fill="none">
<use href="#lr1" stroke="#e8363e" stroke-width="0.8" stroke-opacity="0.85"/>
<use href="#lr2" stroke="#e8363e" stroke-width="0.8" stroke-opacity="0.85"/>
</g>
<rect x="1235.60" y="333.30" width="30.00" height="8.80" fill="#1b1b1d"/>
<text x="1193.2" y="580.4" font-size="16.50" class="it" textLength="135.8" lengthAdjust="spacingAndGlyphs">Относительное</text>
<text x="1345.9" y="580.4" font-size="16.50" class="it" textLength="126.2" lengthAdjust="spacingAndGlyphs">распредѣленіе</text>
<text x="1281.6" y="603.3" font-size="16.50" class="it" textLength="105.8" lengthAdjust="spacingAndGlyphs">заготовокъ</text>
<ellipse cx="1327.7" cy="797.2" rx="146.9" ry="148.8" fill="#fdfeff"/>
<path d="M1327.00 798.00L1208.47 710.28A146.9 148.8 0 0 0 1199.83 723.95Z" fill="#1b1b1d"/>
<clipPath id="cp13"><path d="M1327.00 798.00L1323.20 945.93A146.9 148.8 0 1 0 1215.53 701.11Z"/></clipPath>
<g clip-path="url(#cp13)" fill="none">
<use href="#pb1" stroke="#4592da" stroke-width="0.6" stroke-opacity="0.84"/>
</g>
<clipPath id="cp14"><path d="M1327.00 798.00L1215.53 701.11A146.9 148.8 0 0 0 1208.47 710.28Z"/></clipPath>
<g clip-path="url(#cp14)" fill="none">
<use href="#pr1" stroke="#e8363e" stroke-width="0.8" stroke-opacity="0.9"/>
<use href="#pr2" stroke="#e8363e" stroke-width="0.8" stroke-opacity="0.9"/>
</g>
<clipPath id="cp15"><path d="M1327.00 798.00L1199.83 723.95A146.9 148.8 0 0 0 1184.11 765.77Z"/></clipPath>
<g clip-path="url(#cp15)" fill="none">
<use href="#pg" stroke="#3a3a3a" stroke-width="0.7"/>
</g>
<clipPath id="cp16"><path d="M1327.00 798.00L1184.11 765.77A146.9 148.8 0 0 0 1205.98 880.51Z"/></clipPath>
<g clip-path="url(#cp16)" fill="none">
<use href="#pr1" stroke="#ee5a68" stroke-width="0.6"/>
</g>
<clipPath id="cp17"><path d="M1327.00 798.00L1205.98 880.51A146.9 148.8 0 0 0 1323.20 945.93Z"/></clipPath>
<g clip-path="url(#cp17)" fill="none">
<use href="#pb1" stroke="#4592da" stroke-width="0.62" stroke-opacity="0.8"/>
<use href="#pb2" stroke="#4592da" stroke-width="0.62" stroke-opacity="0.8"/>
</g>
<g fill="none" stroke="#3a3a3a" stroke-width="0.8">
<ellipse cx="1327.7" cy="797.2" rx="146.9" ry="148.8" stroke-width="1"/>
<path d="M1327.0 798.0L1323.20 946.00"/>
<path d="M1327.0 798.0L1216.10 701.60"/>
<path d="M1327.0 798.0L1208.90 710.60"/>
<path d="M1327.0 798.0L1199.40 723.70"/>
<path d="M1327.0 798.0L1183.80 765.70"/>
<path d="M1327.0 798.0L1205.70 880.70"/>
</g>
<text x="1345.8" y="820.5" font-size="8.20" class="sans b" textLength="72.2" lengthAdjust="spacingAndGlyphs" letter-spacing="0.6">42.121.575 п.</text>
<text x="1237.3" y="877.7" font-size="8.20" class="sans b" textLength="57.7" lengthAdjust="spacingAndGlyphs">9.937.337п.</text>
<text x="1212.0" y="801.0" font-size="8.20" class="sans b" textLength="62.2" lengthAdjust="spacingAndGlyphs">9.287.848 п.</text>
<text x="1213.1" y="754.5" font-size="8.00" class="sans b" textLength="53.0" lengthAdjust="spacingAndGlyphs" transform="rotate(21.9 1213.1 754.5)">2.905.321п.</text>
<text x="1224.2" y="730.5" font-size="7.60" class="sans b" textLength="49.0" lengthAdjust="spacingAndGlyphs" transform="rotate(36 1224.2 730.5)" style="fill:#e8e8e8">996.179 п.</text>
<text x="1228.5" y="720.0" font-size="7.20" class="sans b" textLength="43.4" lengthAdjust="spacingAndGlyphs" transform="rotate(39 1228.5 720.0)">845.395п.</text>
<text x="1286.3" y="958.0" font-size="8.60" class="sans b" textLength="85.8" lengthAdjust="spacingAndGlyphs">65.393.655 <tspan font-size="7.5" font-weight="normal">пуд.</tspan></text>
<text x="1479.2" y="1126.4" font-size="18.80" class="sans" textLength="228.9" lengthAdjust="spacingAndGlyphs" style="fill:#8a8a8a">Библиотека "Руниверс"</text>
</svg></body></html>
